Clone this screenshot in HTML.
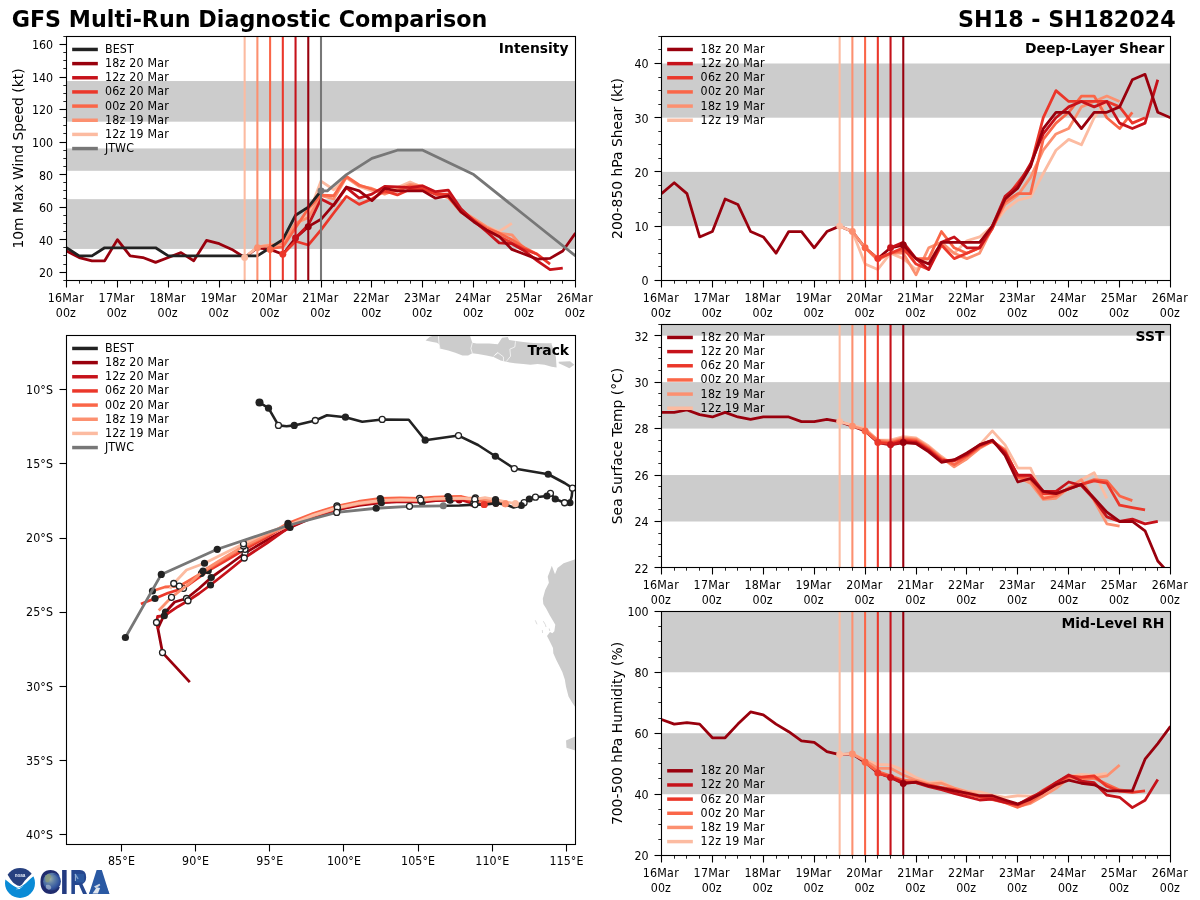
<!DOCTYPE html>
<html lang="en"><head><meta charset="utf-8"><title>GFS Multi-Run Diagnostic Comparison - SH18</title>
<style>html,body{margin:0;padding:0;background:#fff}svg{display:block;will-change:transform}text{font-family:'DejaVu Sans','Liberation Sans',sans-serif;fill:#000}</style>
</head><body>
<svg width="1200" height="900" viewBox="0 0 1200 900">
<rect width="1200" height="900" fill="#fff"/>
<defs>
<clipPath id="cI"><rect x="66.5" y="36.5" width="509" height="244"/></clipPath>
<clipPath id="cS"><rect x="661.5" y="36.5" width="509" height="244"/></clipPath>
<clipPath id="cT"><rect x="661.5" y="324.5" width="509" height="243"/></clipPath>
<clipPath id="cR"><rect x="661.5" y="611.5" width="509" height="244"/></clipPath>
<clipPath id="cM"><rect x="66.5" y="335.5" width="509" height="509"/></clipPath>
</defs>
<text transform="translate(11.7,26.8)" font-size="22.22" text-anchor="start" font-weight="bold">GFS Multi-Run Diagnostic Comparison</text>
<text transform="translate(1175.7,26.8)" font-size="22.22" text-anchor="end" font-weight="bold">SH18 - SH182024</text>
<rect x="66.5" y="199.16" width="509" height="49.76" fill="#cccccc"/>
<rect x="66.5" y="148.43" width="509" height="22.36" fill="#cccccc"/>
<rect x="66.5" y="81.03" width="509" height="40.65" fill="#cccccc"/>
<polyline points="66.5,251.03 79.22,257.54 91.95,260.79 104.67,260.79 117.4,239.65 130.12,255.91 142.85,257.54 155.57,262.41 168.3,257.54 181.03,252.66 193.75,260.79 206.47,240.46 219.2,243.72 231.93,249.41 244.65,257.54 257.38,247.78 270.1,249.41 282.82,254.28 295.55,238.02 308.27,226.64" fill="none" stroke="#99000d" stroke-width="2.78" stroke-linejoin="round" stroke-linecap="butt" clip-path="url(#cI)"/>
<polyline points="244.65,257.54 257.38,246.97 270.1,244.53 282.82,245.34 295.55,225.67 308.27,215.26 321,181.11 333.73,189.73 346.45,177.86 359.18,186.32 371.9,190.87 384.62,192.5 397.35,187.62 410.07,181.93 422.8,187.62 435.52,194.12 448.25,197.37 460.98,210.38 473.7,218.51 486.43,226.64 499.15,231.52 511.88,223.39" fill="none" stroke="#fcbba1" stroke-width="2.78" stroke-linejoin="round" stroke-linecap="butt" clip-path="url(#cI)"/>
<polyline points="257.38,246.97 270.1,245.34 282.82,243.72 295.55,223.06 308.27,217.7 321,195.75 333.73,199 346.45,177.05 359.18,185.99 371.9,188.43 384.62,194.12 397.35,189.24 410.07,184.37 422.8,185.99 435.52,192.5 448.25,195.75 460.98,210.38 473.7,218.51 486.43,226.64 499.15,233.15 511.88,234.77 524.6,249.41" fill="none" stroke="#fc9070" stroke-width="2.78" stroke-linejoin="round" stroke-linecap="butt" clip-path="url(#cI)"/>
<polyline points="270.1,248.59 282.82,246.97 295.55,227.78 308.27,208.43 321,195.1 333.73,195.75 346.45,176.4 359.18,185.02 371.9,189.24 384.62,192.5 397.35,190.87 410.07,185.99 422.8,187.62 435.52,194.12 448.25,197.37 460.98,212.01 473.7,220.14 486.43,228.27 499.15,233.15 511.88,239.65 524.6,247.78 537.33,254.28" fill="none" stroke="#fa6648" stroke-width="2.78" stroke-linejoin="round" stroke-linecap="butt" clip-path="url(#cI)"/>
<polyline points="282.82,254.28 295.55,241.28 308.27,245.02 321,229.89 333.73,212.98 346.45,196.4 359.18,204.37 371.9,199 384.62,190.87 397.35,194.94 410.07,189.24 422.8,189.24 435.52,194.12 448.25,194.12 460.98,210.38 473.7,220.14 486.43,229.89 499.15,236.4 511.88,242.9 524.6,249.41 537.33,254.28 550.05,264.04" fill="none" stroke="#eb372a" stroke-width="2.78" stroke-linejoin="round" stroke-linecap="butt" clip-path="url(#cI)"/>
<polyline points="295.55,238.02 308.27,225.02 321,199 333.73,205.5 346.45,187.62 359.18,198.19 371.9,194.12 384.62,186.32 397.35,186.81 410.07,187.62 422.8,185.99 435.52,191.68 448.25,190.06 460.98,208.76 473.7,220.95 486.43,231.52 499.15,242.9 511.88,243.72 524.6,251.03 537.33,260.79 550.05,269.73 562.77,268.11" fill="none" stroke="#c6121a" stroke-width="2.78" stroke-linejoin="round" stroke-linecap="butt" clip-path="url(#cI)"/>
<polyline points="308.27,226.64 321,219.33 333.73,204.69 346.45,186.97 359.18,190.87 371.9,200.63 384.62,188.43 397.35,190.87 410.07,190.87 422.8,190.87 435.52,198.19 448.25,195.75 460.98,212.01 473.7,221.76 486.43,229.89 499.15,236.4 511.88,249.41 524.6,254.28 537.33,259.16 550.05,258.35 562.77,251.03 575.5,233.15" fill="none" stroke="#99000d" stroke-width="2.78" stroke-linejoin="round" stroke-linecap="butt" clip-path="url(#cI)"/>
<polyline points="66.5,247.78 79.22,255.91 91.95,255.91 104.67,247.78 117.4,247.78 130.12,247.78 142.85,247.78 155.57,247.78 168.3,255.91 181.03,255.91 193.75,255.91 206.47,255.91 219.2,255.91 231.93,255.91 244.65,255.91 257.38,255.91 270.1,247.78 282.82,239.65 295.55,215.26 308.27,207.13 321,190.87" fill="none" stroke="#222222" stroke-width="2.78" stroke-linejoin="round" stroke-linecap="butt" clip-path="url(#cI)"/>
<polyline points="321,190.87 327.36,190.87 346.45,174.61 371.9,158.35 397.35,150.22 422.8,150.22 473.7,174.61 524.6,215.26 575.5,255.91" fill="none" stroke="#777777" stroke-width="2.78" stroke-linejoin="round" stroke-linecap="butt" clip-path="url(#cI)"/>
<line x1="244.65" y1="36.5" x2="244.65" y2="280.5" stroke="#fcbba1" stroke-width="2.08"/>
<line x1="257.38" y1="36.5" x2="257.38" y2="280.5" stroke="#fc9070" stroke-width="2.08"/>
<line x1="270.1" y1="36.5" x2="270.1" y2="280.5" stroke="#fa6648" stroke-width="2.08"/>
<line x1="282.82" y1="36.5" x2="282.82" y2="280.5" stroke="#eb372a" stroke-width="2.08"/>
<line x1="295.55" y1="36.5" x2="295.55" y2="280.5" stroke="#c6121a" stroke-width="2.08"/>
<line x1="308.27" y1="36.5" x2="308.27" y2="280.5" stroke="#99000d" stroke-width="2.08"/>
<line x1="321" y1="36.5" x2="321" y2="280.5" stroke="#777777" stroke-width="2.08"/>
<circle cx="244.65" cy="257.54" r="3.47" fill="#fcbba1"/>
<circle cx="257.38" cy="247.78" r="3.47" fill="#fc9070"/>
<circle cx="270.1" cy="249.41" r="3.47" fill="#fa6648"/>
<circle cx="282.82" cy="254.28" r="3.47" fill="#eb372a"/>
<circle cx="295.55" cy="238.02" r="3.47" fill="#c6121a"/>
<circle cx="308.27" cy="226.64" r="3.47" fill="#99000d"/>
<circle cx="321" cy="190.87" r="3.47" fill="#777777"/>
<rect x="66.5" y="36.5" width="509" height="244" fill="none" stroke="#000" stroke-width="1.1"/>
<line x1="66.5" y1="280.5" x2="66.5" y2="287.5" stroke="#000" stroke-width="1.1"/>
<text transform="translate(65.7,302.2) scale(1,1.11)" font-size="11.11" text-anchor="middle" textLength="36" lengthAdjust="spacing">16Mar</text>
<text transform="translate(65.8,317.3) scale(1,1.11)" font-size="11.11" text-anchor="middle" textLength="20" lengthAdjust="spacing">00z</text>
<line x1="79.5" y1="280.5" x2="79.5" y2="283.7" stroke="#000" stroke-width="0.85"/>
<line x1="91.5" y1="280.5" x2="91.5" y2="283.7" stroke="#000" stroke-width="0.85"/>
<line x1="104.5" y1="280.5" x2="104.5" y2="283.7" stroke="#000" stroke-width="0.85"/>
<line x1="117.5" y1="280.5" x2="117.5" y2="287.5" stroke="#000" stroke-width="1.1"/>
<text transform="translate(116.6,302.2) scale(1,1.11)" font-size="11.11" text-anchor="middle" textLength="36" lengthAdjust="spacing">17Mar</text>
<text transform="translate(116.7,317.3) scale(1,1.11)" font-size="11.11" text-anchor="middle" textLength="20" lengthAdjust="spacing">00z</text>
<line x1="130.5" y1="280.5" x2="130.5" y2="283.7" stroke="#000" stroke-width="0.85"/>
<line x1="142.5" y1="280.5" x2="142.5" y2="283.7" stroke="#000" stroke-width="0.85"/>
<line x1="155.5" y1="280.5" x2="155.5" y2="283.7" stroke="#000" stroke-width="0.85"/>
<line x1="168.5" y1="280.5" x2="168.5" y2="287.5" stroke="#000" stroke-width="1.1"/>
<text transform="translate(167.5,302.2) scale(1,1.11)" font-size="11.11" text-anchor="middle" textLength="36" lengthAdjust="spacing">18Mar</text>
<text transform="translate(167.6,317.3) scale(1,1.11)" font-size="11.11" text-anchor="middle" textLength="20" lengthAdjust="spacing">00z</text>
<line x1="181.5" y1="280.5" x2="181.5" y2="283.7" stroke="#000" stroke-width="0.85"/>
<line x1="193.5" y1="280.5" x2="193.5" y2="283.7" stroke="#000" stroke-width="0.85"/>
<line x1="206.5" y1="280.5" x2="206.5" y2="283.7" stroke="#000" stroke-width="0.85"/>
<line x1="219.5" y1="280.5" x2="219.5" y2="287.5" stroke="#000" stroke-width="1.1"/>
<text transform="translate(218.4,302.2) scale(1,1.11)" font-size="11.11" text-anchor="middle" textLength="36" lengthAdjust="spacing">19Mar</text>
<text transform="translate(218.5,317.3) scale(1,1.11)" font-size="11.11" text-anchor="middle" textLength="20" lengthAdjust="spacing">00z</text>
<line x1="231.5" y1="280.5" x2="231.5" y2="283.7" stroke="#000" stroke-width="0.85"/>
<line x1="244.5" y1="280.5" x2="244.5" y2="283.7" stroke="#000" stroke-width="0.85"/>
<line x1="257.5" y1="280.5" x2="257.5" y2="283.7" stroke="#000" stroke-width="0.85"/>
<line x1="270.5" y1="280.5" x2="270.5" y2="287.5" stroke="#000" stroke-width="1.1"/>
<text transform="translate(269.3,302.2) scale(1,1.11)" font-size="11.11" text-anchor="middle" textLength="36" lengthAdjust="spacing">20Mar</text>
<text transform="translate(269.4,317.3) scale(1,1.11)" font-size="11.11" text-anchor="middle" textLength="20" lengthAdjust="spacing">00z</text>
<line x1="282.5" y1="280.5" x2="282.5" y2="283.7" stroke="#000" stroke-width="0.85"/>
<line x1="295.5" y1="280.5" x2="295.5" y2="283.7" stroke="#000" stroke-width="0.85"/>
<line x1="308.5" y1="280.5" x2="308.5" y2="283.7" stroke="#000" stroke-width="0.85"/>
<line x1="321.5" y1="280.5" x2="321.5" y2="287.5" stroke="#000" stroke-width="1.1"/>
<text transform="translate(320.2,302.2) scale(1,1.11)" font-size="11.11" text-anchor="middle" textLength="36" lengthAdjust="spacing">21Mar</text>
<text transform="translate(320.3,317.3) scale(1,1.11)" font-size="11.11" text-anchor="middle" textLength="20" lengthAdjust="spacing">00z</text>
<line x1="333.5" y1="280.5" x2="333.5" y2="283.7" stroke="#000" stroke-width="0.85"/>
<line x1="346.5" y1="280.5" x2="346.5" y2="283.7" stroke="#000" stroke-width="0.85"/>
<line x1="359.5" y1="280.5" x2="359.5" y2="283.7" stroke="#000" stroke-width="0.85"/>
<line x1="371.5" y1="280.5" x2="371.5" y2="287.5" stroke="#000" stroke-width="1.1"/>
<text transform="translate(371.1,302.2) scale(1,1.11)" font-size="11.11" text-anchor="middle" textLength="36" lengthAdjust="spacing">22Mar</text>
<text transform="translate(371.2,317.3) scale(1,1.11)" font-size="11.11" text-anchor="middle" textLength="20" lengthAdjust="spacing">00z</text>
<line x1="384.5" y1="280.5" x2="384.5" y2="283.7" stroke="#000" stroke-width="0.85"/>
<line x1="397.5" y1="280.5" x2="397.5" y2="283.7" stroke="#000" stroke-width="0.85"/>
<line x1="410.5" y1="280.5" x2="410.5" y2="283.7" stroke="#000" stroke-width="0.85"/>
<line x1="422.5" y1="280.5" x2="422.5" y2="287.5" stroke="#000" stroke-width="1.1"/>
<text transform="translate(422,302.2) scale(1,1.11)" font-size="11.11" text-anchor="middle" textLength="36" lengthAdjust="spacing">23Mar</text>
<text transform="translate(422.1,317.3) scale(1,1.11)" font-size="11.11" text-anchor="middle" textLength="20" lengthAdjust="spacing">00z</text>
<line x1="435.5" y1="280.5" x2="435.5" y2="283.7" stroke="#000" stroke-width="0.85"/>
<line x1="448.5" y1="280.5" x2="448.5" y2="283.7" stroke="#000" stroke-width="0.85"/>
<line x1="460.5" y1="280.5" x2="460.5" y2="283.7" stroke="#000" stroke-width="0.85"/>
<line x1="473.5" y1="280.5" x2="473.5" y2="287.5" stroke="#000" stroke-width="1.1"/>
<text transform="translate(472.9,302.2) scale(1,1.11)" font-size="11.11" text-anchor="middle" textLength="36" lengthAdjust="spacing">24Mar</text>
<text transform="translate(473,317.3) scale(1,1.11)" font-size="11.11" text-anchor="middle" textLength="20" lengthAdjust="spacing">00z</text>
<line x1="486.5" y1="280.5" x2="486.5" y2="283.7" stroke="#000" stroke-width="0.85"/>
<line x1="499.5" y1="280.5" x2="499.5" y2="283.7" stroke="#000" stroke-width="0.85"/>
<line x1="511.5" y1="280.5" x2="511.5" y2="283.7" stroke="#000" stroke-width="0.85"/>
<line x1="524.5" y1="280.5" x2="524.5" y2="287.5" stroke="#000" stroke-width="1.1"/>
<text transform="translate(523.8,302.2) scale(1,1.11)" font-size="11.11" text-anchor="middle" textLength="36" lengthAdjust="spacing">25Mar</text>
<text transform="translate(523.9,317.3) scale(1,1.11)" font-size="11.11" text-anchor="middle" textLength="20" lengthAdjust="spacing">00z</text>
<line x1="537.5" y1="280.5" x2="537.5" y2="283.7" stroke="#000" stroke-width="0.85"/>
<line x1="550.5" y1="280.5" x2="550.5" y2="283.7" stroke="#000" stroke-width="0.85"/>
<line x1="562.5" y1="280.5" x2="562.5" y2="283.7" stroke="#000" stroke-width="0.85"/>
<line x1="575.5" y1="280.5" x2="575.5" y2="287.5" stroke="#000" stroke-width="1.1"/>
<text transform="translate(574.7,302.2) scale(1,1.11)" font-size="11.11" text-anchor="middle" textLength="36" lengthAdjust="spacing">26Mar</text>
<text transform="translate(574.8,317.3) scale(1,1.11)" font-size="11.11" text-anchor="middle" textLength="20" lengthAdjust="spacing">00z</text>
<line x1="63.3" y1="280.5" x2="66.5" y2="280.5" stroke="#000" stroke-width="0.85"/>
<line x1="59.5" y1="272.5" x2="66.5" y2="272.5" stroke="#000" stroke-width="1.1"/>
<text transform="translate(53,277.07) scale(1,1.11)" font-size="11.11" text-anchor="end" textLength="14" lengthAdjust="spacing">20</text>
<line x1="63.3" y1="264.5" x2="66.5" y2="264.5" stroke="#000" stroke-width="0.85"/>
<line x1="63.3" y1="255.5" x2="66.5" y2="255.5" stroke="#000" stroke-width="0.85"/>
<line x1="63.3" y1="247.5" x2="66.5" y2="247.5" stroke="#000" stroke-width="0.85"/>
<line x1="59.5" y1="239.5" x2="66.5" y2="239.5" stroke="#000" stroke-width="1.1"/>
<text transform="translate(53,244.55) scale(1,1.11)" font-size="11.11" text-anchor="end" textLength="14" lengthAdjust="spacing">40</text>
<line x1="63.3" y1="231.5" x2="66.5" y2="231.5" stroke="#000" stroke-width="0.85"/>
<line x1="63.3" y1="223.5" x2="66.5" y2="223.5" stroke="#000" stroke-width="0.85"/>
<line x1="63.3" y1="215.5" x2="66.5" y2="215.5" stroke="#000" stroke-width="0.85"/>
<line x1="59.5" y1="207.5" x2="66.5" y2="207.5" stroke="#000" stroke-width="1.1"/>
<text transform="translate(53,212.03) scale(1,1.11)" font-size="11.11" text-anchor="end" textLength="14" lengthAdjust="spacing">60</text>
<line x1="63.3" y1="198.5" x2="66.5" y2="198.5" stroke="#000" stroke-width="0.85"/>
<line x1="63.3" y1="190.5" x2="66.5" y2="190.5" stroke="#000" stroke-width="0.85"/>
<line x1="63.3" y1="182.5" x2="66.5" y2="182.5" stroke="#000" stroke-width="0.85"/>
<line x1="59.5" y1="174.5" x2="66.5" y2="174.5" stroke="#000" stroke-width="1.1"/>
<text transform="translate(53,179.51) scale(1,1.11)" font-size="11.11" text-anchor="end" textLength="14" lengthAdjust="spacing">80</text>
<line x1="63.3" y1="166.5" x2="66.5" y2="166.5" stroke="#000" stroke-width="0.85"/>
<line x1="63.3" y1="158.5" x2="66.5" y2="158.5" stroke="#000" stroke-width="0.85"/>
<line x1="63.3" y1="150.5" x2="66.5" y2="150.5" stroke="#000" stroke-width="0.85"/>
<line x1="59.5" y1="142.5" x2="66.5" y2="142.5" stroke="#000" stroke-width="1.1"/>
<text transform="translate(53,146.99) scale(1,1.11)" font-size="11.11" text-anchor="end" textLength="21" lengthAdjust="spacing">100</text>
<line x1="63.3" y1="133.5" x2="66.5" y2="133.5" stroke="#000" stroke-width="0.85"/>
<line x1="63.3" y1="125.5" x2="66.5" y2="125.5" stroke="#000" stroke-width="0.85"/>
<line x1="63.3" y1="117.5" x2="66.5" y2="117.5" stroke="#000" stroke-width="0.85"/>
<line x1="59.5" y1="109.5" x2="66.5" y2="109.5" stroke="#000" stroke-width="1.1"/>
<text transform="translate(53,114.47) scale(1,1.11)" font-size="11.11" text-anchor="end" textLength="21" lengthAdjust="spacing">120</text>
<line x1="63.3" y1="101.5" x2="66.5" y2="101.5" stroke="#000" stroke-width="0.85"/>
<line x1="63.3" y1="93.5" x2="66.5" y2="93.5" stroke="#000" stroke-width="0.85"/>
<line x1="63.3" y1="85.5" x2="66.5" y2="85.5" stroke="#000" stroke-width="0.85"/>
<line x1="59.5" y1="77.5" x2="66.5" y2="77.5" stroke="#000" stroke-width="1.1"/>
<text transform="translate(53,81.95) scale(1,1.11)" font-size="11.11" text-anchor="end" textLength="21" lengthAdjust="spacing">140</text>
<line x1="63.3" y1="68.5" x2="66.5" y2="68.5" stroke="#000" stroke-width="0.85"/>
<line x1="63.3" y1="60.5" x2="66.5" y2="60.5" stroke="#000" stroke-width="0.85"/>
<line x1="63.3" y1="52.5" x2="66.5" y2="52.5" stroke="#000" stroke-width="0.85"/>
<line x1="59.5" y1="44.5" x2="66.5" y2="44.5" stroke="#000" stroke-width="1.1"/>
<text transform="translate(53,49.43) scale(1,1.11)" font-size="11.11" text-anchor="end" textLength="21" lengthAdjust="spacing">160</text>
<line x1="63.3" y1="36.5" x2="66.5" y2="36.5" stroke="#000" stroke-width="0.85"/>
<text transform="translate(568.5,52.8)" font-size="13.89" text-anchor="end" font-weight="bold">Intensity</text>
<text transform="translate(23,158.5) rotate(-90)" font-size="13.89" text-anchor="middle">10m Max Wind Speed (kt)</text>
<line x1="73.9" y1="49.45" x2="96.1" y2="49.45" stroke="#222222" stroke-width="3.47" stroke-linecap="square"/>
<text transform="translate(104.9,52.95) scale(1,1.11)" font-size="11.11" text-anchor="start" textLength="29" lengthAdjust="spacing">BEST</text>
<line x1="73.9" y1="63.61" x2="96.1" y2="63.61" stroke="#99000d" stroke-width="3.47" stroke-linecap="square"/>
<text transform="translate(104.9,67.11) scale(1,1.11)" font-size="11.11" text-anchor="start" textLength="64" lengthAdjust="spacing">18z 20 Mar</text>
<line x1="73.9" y1="77.77" x2="96.1" y2="77.77" stroke="#c6121a" stroke-width="3.47" stroke-linecap="square"/>
<text transform="translate(104.9,81.27) scale(1,1.11)" font-size="11.11" text-anchor="start" textLength="64" lengthAdjust="spacing">12z 20 Mar</text>
<line x1="73.9" y1="91.93" x2="96.1" y2="91.93" stroke="#eb372a" stroke-width="3.47" stroke-linecap="square"/>
<text transform="translate(104.9,95.43) scale(1,1.11)" font-size="11.11" text-anchor="start" textLength="64" lengthAdjust="spacing">06z 20 Mar</text>
<line x1="73.9" y1="106.09" x2="96.1" y2="106.09" stroke="#fa6648" stroke-width="3.47" stroke-linecap="square"/>
<text transform="translate(104.9,109.59) scale(1,1.11)" font-size="11.11" text-anchor="start" textLength="64" lengthAdjust="spacing">00z 20 Mar</text>
<line x1="73.9" y1="120.25" x2="96.1" y2="120.25" stroke="#fc9070" stroke-width="3.47" stroke-linecap="square"/>
<text transform="translate(104.9,123.75) scale(1,1.11)" font-size="11.11" text-anchor="start" textLength="64" lengthAdjust="spacing">18z 19 Mar</text>
<line x1="73.9" y1="134.41" x2="96.1" y2="134.41" stroke="#fcbba1" stroke-width="3.47" stroke-linecap="square"/>
<text transform="translate(104.9,137.91) scale(1,1.11)" font-size="11.11" text-anchor="start" textLength="64" lengthAdjust="spacing">12z 19 Mar</text>
<line x1="73.9" y1="148.57" x2="96.1" y2="148.57" stroke="#777777" stroke-width="3.47" stroke-linecap="square"/>
<text transform="translate(104.9,152.07) scale(1,1.11)" font-size="11.11" text-anchor="start" textLength="29" lengthAdjust="spacing">JTWC</text>
<rect x="661.5" y="171.9" width="509" height="54.2" fill="#cccccc"/>
<rect x="661.5" y="63.5" width="509" height="54.2" fill="#cccccc"/>
<polyline points="661.5,193.58 674.23,182.74 686.95,193.58 699.67,236.94 712.4,231.52 725.12,199 737.85,204.42 750.58,231.52 763.3,236.94 776.02,253.2 788.75,231.52 801.48,231.52 814.2,247.78 826.92,231.52 839.65,226.1 852.38,231.52 865.1,247.78 877.83,258.62 890.55,247.78 903.27,245.07" fill="none" stroke="#99000d" stroke-width="2.78" stroke-linejoin="round" stroke-linecap="butt" clip-path="url(#cS)"/>
<polyline points="839.65,226.1 852.38,231.52 865.1,264.04 877.83,269.46 890.55,253.2 903.27,258.62 916,269.46 928.73,258.62 941.45,245.07 954.17,253.2 966.9,240.73 979.62,236.94 992.35,226.1 1005.08,209.84 1017.8,200.08 1030.53,196.83 1043.25,173.53 1055.97,150.22 1068.7,139.38 1081.42,144.8 1094.15,117.7 1106.88,101.44" fill="none" stroke="#fcbba1" stroke-width="2.78" stroke-linejoin="round" stroke-linecap="butt" clip-path="url(#cS)"/>
<polyline points="852.38,231.52 865.1,247.78 877.83,260.25 890.55,253.2 903.27,253.2 916,274.88 928.73,247.78 941.45,242.36 954.17,253.2 966.9,258.62 979.62,253.2 992.35,227.73 1005.08,204.42 1017.8,195.21 1030.53,177.32 1043.25,150.22 1055.97,133.96 1068.7,128.54 1081.42,106.86 1094.15,101.44 1106.88,96.02 1119.6,101.44" fill="none" stroke="#fc9070" stroke-width="2.78" stroke-linejoin="round" stroke-linecap="butt" clip-path="url(#cS)"/>
<polyline points="865.1,247.78 877.83,258.62 890.55,253.2 903.27,250.49 916,258.62 928.73,258.62 941.45,231.52 954.17,247.78 966.9,253.2 979.62,247.78 992.35,226.1 1005.08,201.71 1017.8,193.58 1030.53,193.58 1043.25,139.38 1055.97,123.12 1068.7,112.28 1081.42,96.02 1094.15,96.02 1106.88,117.7 1119.6,128.54 1132.33,112.28" fill="none" stroke="#fa6648" stroke-width="2.78" stroke-linejoin="round" stroke-linecap="butt" clip-path="url(#cS)"/>
<polyline points="877.83,258.62 890.55,253.2 903.27,247.78 916,264.04 928.73,269.46 941.45,245.07 954.17,258.62 966.9,253.2 979.62,247.78 992.35,228.81 1005.08,199 1017.8,182.74 1030.53,166.48 1043.25,117.7 1055.97,90.6 1068.7,101.44 1081.42,101.44 1094.15,101.44 1106.88,101.44 1119.6,106.86 1132.33,123.12 1145.05,117.7" fill="none" stroke="#eb372a" stroke-width="2.78" stroke-linejoin="round" stroke-linecap="butt" clip-path="url(#cS)"/>
<polyline points="890.55,247.78 903.27,242.36 916,258.62 928.73,269.46 941.45,242.36 954.17,236.94 966.9,247.78 979.62,247.78 992.35,226.1 1005.08,196.29 1017.8,185.45 1030.53,163.77 1043.25,133.96 1055.97,117.7 1068.7,106.86 1081.42,101.44 1094.15,106.86 1106.88,101.44 1119.6,123.12 1132.33,128.54 1145.05,123.12 1157.78,79.76" fill="none" stroke="#c6121a" stroke-width="2.78" stroke-linejoin="round" stroke-linecap="butt" clip-path="url(#cS)"/>
<polyline points="903.27,245.07 916,258.62 928.73,264.04 941.45,242.36 954.17,242.36 966.9,242.36 979.62,242.36 992.35,226.1 1005.08,199 1017.8,188.16 1030.53,166.48 1043.25,128.54 1055.97,112.28 1068.7,112.28 1081.42,128.54 1094.15,112.28 1106.88,112.28 1119.6,106.86 1132.33,79.76 1145.05,74.34 1157.78,112.28 1170.5,117.7" fill="none" stroke="#99000d" stroke-width="2.78" stroke-linejoin="round" stroke-linecap="butt" clip-path="url(#cS)"/>
<line x1="839.65" y1="36.5" x2="839.65" y2="280.5" stroke="#fcbba1" stroke-width="2.08"/>
<line x1="852.38" y1="36.5" x2="852.38" y2="280.5" stroke="#fc9070" stroke-width="2.08"/>
<line x1="865.1" y1="36.5" x2="865.1" y2="280.5" stroke="#fa6648" stroke-width="2.08"/>
<line x1="877.83" y1="36.5" x2="877.83" y2="280.5" stroke="#eb372a" stroke-width="2.08"/>
<line x1="890.55" y1="36.5" x2="890.55" y2="280.5" stroke="#c6121a" stroke-width="2.08"/>
<line x1="903.27" y1="36.5" x2="903.27" y2="280.5" stroke="#99000d" stroke-width="2.08"/>
<circle cx="839.65" cy="226.1" r="3.47" fill="#fcbba1"/>
<circle cx="852.38" cy="231.52" r="3.47" fill="#fc9070"/>
<circle cx="865.1" cy="247.78" r="3.47" fill="#fa6648"/>
<circle cx="877.83" cy="258.62" r="3.47" fill="#eb372a"/>
<circle cx="890.55" cy="247.78" r="3.47" fill="#c6121a"/>
<circle cx="903.27" cy="245.07" r="3.47" fill="#99000d"/>
<rect x="661.5" y="36.5" width="509" height="244" fill="none" stroke="#000" stroke-width="1.1"/>
<line x1="661.5" y1="280.5" x2="661.5" y2="287.5" stroke="#000" stroke-width="1.1"/>
<text transform="translate(660.7,302.2) scale(1,1.11)" font-size="11.11" text-anchor="middle" textLength="36" lengthAdjust="spacing">16Mar</text>
<text transform="translate(660.8,317.3) scale(1,1.11)" font-size="11.11" text-anchor="middle" textLength="20" lengthAdjust="spacing">00z</text>
<line x1="674.5" y1="280.5" x2="674.5" y2="283.7" stroke="#000" stroke-width="0.85"/>
<line x1="686.5" y1="280.5" x2="686.5" y2="283.7" stroke="#000" stroke-width="0.85"/>
<line x1="699.5" y1="280.5" x2="699.5" y2="283.7" stroke="#000" stroke-width="0.85"/>
<line x1="712.5" y1="280.5" x2="712.5" y2="287.5" stroke="#000" stroke-width="1.1"/>
<text transform="translate(711.6,302.2) scale(1,1.11)" font-size="11.11" text-anchor="middle" textLength="36" lengthAdjust="spacing">17Mar</text>
<text transform="translate(711.7,317.3) scale(1,1.11)" font-size="11.11" text-anchor="middle" textLength="20" lengthAdjust="spacing">00z</text>
<line x1="725.5" y1="280.5" x2="725.5" y2="283.7" stroke="#000" stroke-width="0.85"/>
<line x1="737.5" y1="280.5" x2="737.5" y2="283.7" stroke="#000" stroke-width="0.85"/>
<line x1="750.5" y1="280.5" x2="750.5" y2="283.7" stroke="#000" stroke-width="0.85"/>
<line x1="763.5" y1="280.5" x2="763.5" y2="287.5" stroke="#000" stroke-width="1.1"/>
<text transform="translate(762.5,302.2) scale(1,1.11)" font-size="11.11" text-anchor="middle" textLength="36" lengthAdjust="spacing">18Mar</text>
<text transform="translate(762.6,317.3) scale(1,1.11)" font-size="11.11" text-anchor="middle" textLength="20" lengthAdjust="spacing">00z</text>
<line x1="776.5" y1="280.5" x2="776.5" y2="283.7" stroke="#000" stroke-width="0.85"/>
<line x1="788.5" y1="280.5" x2="788.5" y2="283.7" stroke="#000" stroke-width="0.85"/>
<line x1="801.5" y1="280.5" x2="801.5" y2="283.7" stroke="#000" stroke-width="0.85"/>
<line x1="814.5" y1="280.5" x2="814.5" y2="287.5" stroke="#000" stroke-width="1.1"/>
<text transform="translate(813.4,302.2) scale(1,1.11)" font-size="11.11" text-anchor="middle" textLength="36" lengthAdjust="spacing">19Mar</text>
<text transform="translate(813.5,317.3) scale(1,1.11)" font-size="11.11" text-anchor="middle" textLength="20" lengthAdjust="spacing">00z</text>
<line x1="826.5" y1="280.5" x2="826.5" y2="283.7" stroke="#000" stroke-width="0.85"/>
<line x1="839.5" y1="280.5" x2="839.5" y2="283.7" stroke="#000" stroke-width="0.85"/>
<line x1="852.5" y1="280.5" x2="852.5" y2="283.7" stroke="#000" stroke-width="0.85"/>
<line x1="865.5" y1="280.5" x2="865.5" y2="287.5" stroke="#000" stroke-width="1.1"/>
<text transform="translate(864.3,302.2) scale(1,1.11)" font-size="11.11" text-anchor="middle" textLength="36" lengthAdjust="spacing">20Mar</text>
<text transform="translate(864.4,317.3) scale(1,1.11)" font-size="11.11" text-anchor="middle" textLength="20" lengthAdjust="spacing">00z</text>
<line x1="877.5" y1="280.5" x2="877.5" y2="283.7" stroke="#000" stroke-width="0.85"/>
<line x1="890.5" y1="280.5" x2="890.5" y2="283.7" stroke="#000" stroke-width="0.85"/>
<line x1="903.5" y1="280.5" x2="903.5" y2="283.7" stroke="#000" stroke-width="0.85"/>
<line x1="916.5" y1="280.5" x2="916.5" y2="287.5" stroke="#000" stroke-width="1.1"/>
<text transform="translate(915.2,302.2) scale(1,1.11)" font-size="11.11" text-anchor="middle" textLength="36" lengthAdjust="spacing">21Mar</text>
<text transform="translate(915.3,317.3) scale(1,1.11)" font-size="11.11" text-anchor="middle" textLength="20" lengthAdjust="spacing">00z</text>
<line x1="928.5" y1="280.5" x2="928.5" y2="283.7" stroke="#000" stroke-width="0.85"/>
<line x1="941.5" y1="280.5" x2="941.5" y2="283.7" stroke="#000" stroke-width="0.85"/>
<line x1="954.5" y1="280.5" x2="954.5" y2="283.7" stroke="#000" stroke-width="0.85"/>
<line x1="966.5" y1="280.5" x2="966.5" y2="287.5" stroke="#000" stroke-width="1.1"/>
<text transform="translate(966.1,302.2) scale(1,1.11)" font-size="11.11" text-anchor="middle" textLength="36" lengthAdjust="spacing">22Mar</text>
<text transform="translate(966.2,317.3) scale(1,1.11)" font-size="11.11" text-anchor="middle" textLength="20" lengthAdjust="spacing">00z</text>
<line x1="979.5" y1="280.5" x2="979.5" y2="283.7" stroke="#000" stroke-width="0.85"/>
<line x1="992.5" y1="280.5" x2="992.5" y2="283.7" stroke="#000" stroke-width="0.85"/>
<line x1="1005.5" y1="280.5" x2="1005.5" y2="283.7" stroke="#000" stroke-width="0.85"/>
<line x1="1017.5" y1="280.5" x2="1017.5" y2="287.5" stroke="#000" stroke-width="1.1"/>
<text transform="translate(1017,302.2) scale(1,1.11)" font-size="11.11" text-anchor="middle" textLength="36" lengthAdjust="spacing">23Mar</text>
<text transform="translate(1017.1,317.3) scale(1,1.11)" font-size="11.11" text-anchor="middle" textLength="20" lengthAdjust="spacing">00z</text>
<line x1="1030.5" y1="280.5" x2="1030.5" y2="283.7" stroke="#000" stroke-width="0.85"/>
<line x1="1043.5" y1="280.5" x2="1043.5" y2="283.7" stroke="#000" stroke-width="0.85"/>
<line x1="1055.5" y1="280.5" x2="1055.5" y2="283.7" stroke="#000" stroke-width="0.85"/>
<line x1="1068.5" y1="280.5" x2="1068.5" y2="287.5" stroke="#000" stroke-width="1.1"/>
<text transform="translate(1067.9,302.2) scale(1,1.11)" font-size="11.11" text-anchor="middle" textLength="36" lengthAdjust="spacing">24Mar</text>
<text transform="translate(1068,317.3) scale(1,1.11)" font-size="11.11" text-anchor="middle" textLength="20" lengthAdjust="spacing">00z</text>
<line x1="1081.5" y1="280.5" x2="1081.5" y2="283.7" stroke="#000" stroke-width="0.85"/>
<line x1="1094.5" y1="280.5" x2="1094.5" y2="283.7" stroke="#000" stroke-width="0.85"/>
<line x1="1106.5" y1="280.5" x2="1106.5" y2="283.7" stroke="#000" stroke-width="0.85"/>
<line x1="1119.5" y1="280.5" x2="1119.5" y2="287.5" stroke="#000" stroke-width="1.1"/>
<text transform="translate(1118.8,302.2) scale(1,1.11)" font-size="11.11" text-anchor="middle" textLength="36" lengthAdjust="spacing">25Mar</text>
<text transform="translate(1118.9,317.3) scale(1,1.11)" font-size="11.11" text-anchor="middle" textLength="20" lengthAdjust="spacing">00z</text>
<line x1="1132.5" y1="280.5" x2="1132.5" y2="283.7" stroke="#000" stroke-width="0.85"/>
<line x1="1145.5" y1="280.5" x2="1145.5" y2="283.7" stroke="#000" stroke-width="0.85"/>
<line x1="1157.5" y1="280.5" x2="1157.5" y2="283.7" stroke="#000" stroke-width="0.85"/>
<line x1="1170.5" y1="280.5" x2="1170.5" y2="287.5" stroke="#000" stroke-width="1.1"/>
<text transform="translate(1169.7,302.2) scale(1,1.11)" font-size="11.11" text-anchor="middle" textLength="36" lengthAdjust="spacing">26Mar</text>
<text transform="translate(1169.8,317.3) scale(1,1.11)" font-size="11.11" text-anchor="middle" textLength="20" lengthAdjust="spacing">00z</text>
<line x1="654.5" y1="280.5" x2="661.5" y2="280.5" stroke="#000" stroke-width="1.1"/>
<text transform="translate(648.6,285.2) scale(1,1.11)" font-size="11.11" text-anchor="end">0</text>
<line x1="658.3" y1="266.5" x2="661.5" y2="266.5" stroke="#000" stroke-width="0.85"/>
<line x1="658.3" y1="253.5" x2="661.5" y2="253.5" stroke="#000" stroke-width="0.85"/>
<line x1="658.3" y1="239.5" x2="661.5" y2="239.5" stroke="#000" stroke-width="0.85"/>
<line x1="654.5" y1="226.5" x2="661.5" y2="226.5" stroke="#000" stroke-width="1.1"/>
<text transform="translate(648.6,231) scale(1,1.11)" font-size="11.11" text-anchor="end" textLength="14" lengthAdjust="spacing">10</text>
<line x1="658.3" y1="212.5" x2="661.5" y2="212.5" stroke="#000" stroke-width="0.85"/>
<line x1="658.3" y1="198.5" x2="661.5" y2="198.5" stroke="#000" stroke-width="0.85"/>
<line x1="658.3" y1="185.5" x2="661.5" y2="185.5" stroke="#000" stroke-width="0.85"/>
<line x1="654.5" y1="171.5" x2="661.5" y2="171.5" stroke="#000" stroke-width="1.1"/>
<text transform="translate(648.6,176.8) scale(1,1.11)" font-size="11.11" text-anchor="end" textLength="14" lengthAdjust="spacing">20</text>
<line x1="658.3" y1="158.5" x2="661.5" y2="158.5" stroke="#000" stroke-width="0.85"/>
<line x1="658.3" y1="144.5" x2="661.5" y2="144.5" stroke="#000" stroke-width="0.85"/>
<line x1="658.3" y1="131.5" x2="661.5" y2="131.5" stroke="#000" stroke-width="0.85"/>
<line x1="654.5" y1="117.5" x2="661.5" y2="117.5" stroke="#000" stroke-width="1.1"/>
<text transform="translate(648.6,122.6) scale(1,1.11)" font-size="11.11" text-anchor="end" textLength="14" lengthAdjust="spacing">30</text>
<line x1="658.3" y1="104.5" x2="661.5" y2="104.5" stroke="#000" stroke-width="0.85"/>
<line x1="658.3" y1="90.5" x2="661.5" y2="90.5" stroke="#000" stroke-width="0.85"/>
<line x1="658.3" y1="77.5" x2="661.5" y2="77.5" stroke="#000" stroke-width="0.85"/>
<line x1="654.5" y1="63.5" x2="661.5" y2="63.5" stroke="#000" stroke-width="1.1"/>
<text transform="translate(648.6,68.4) scale(1,1.11)" font-size="11.11" text-anchor="end" textLength="14" lengthAdjust="spacing">40</text>
<line x1="658.3" y1="49.5" x2="661.5" y2="49.5" stroke="#000" stroke-width="0.85"/>
<line x1="658.3" y1="36.5" x2="661.5" y2="36.5" stroke="#000" stroke-width="0.85"/>
<text transform="translate(1164.4,52.8)" font-size="13.89" text-anchor="end" font-weight="bold">Deep-Layer Shear</text>
<text transform="translate(621.8,158.5) rotate(-90)" font-size="13.89" text-anchor="middle">200-850 hPa Shear (kt)</text>
<line x1="668.9" y1="49.45" x2="691.1" y2="49.45" stroke="#99000d" stroke-width="3.47" stroke-linecap="square"/>
<text transform="translate(700.6,52.95) scale(1,1.11)" font-size="11.11" text-anchor="start" textLength="64" lengthAdjust="spacing">18z 20 Mar</text>
<line x1="668.9" y1="63.61" x2="691.1" y2="63.61" stroke="#c6121a" stroke-width="3.47" stroke-linecap="square"/>
<text transform="translate(700.6,67.11) scale(1,1.11)" font-size="11.11" text-anchor="start" textLength="64" lengthAdjust="spacing">12z 20 Mar</text>
<line x1="668.9" y1="77.77" x2="691.1" y2="77.77" stroke="#eb372a" stroke-width="3.47" stroke-linecap="square"/>
<text transform="translate(700.6,81.27) scale(1,1.11)" font-size="11.11" text-anchor="start" textLength="64" lengthAdjust="spacing">06z 20 Mar</text>
<line x1="668.9" y1="91.93" x2="691.1" y2="91.93" stroke="#fa6648" stroke-width="3.47" stroke-linecap="square"/>
<text transform="translate(700.6,95.43) scale(1,1.11)" font-size="11.11" text-anchor="start" textLength="64" lengthAdjust="spacing">00z 20 Mar</text>
<line x1="668.9" y1="106.09" x2="691.1" y2="106.09" stroke="#fc9070" stroke-width="3.47" stroke-linecap="square"/>
<text transform="translate(700.6,109.59) scale(1,1.11)" font-size="11.11" text-anchor="start" textLength="64" lengthAdjust="spacing">18z 19 Mar</text>
<line x1="668.9" y1="120.25" x2="691.1" y2="120.25" stroke="#fcbba1" stroke-width="3.47" stroke-linecap="square"/>
<text transform="translate(700.6,123.75) scale(1,1.11)" font-size="11.11" text-anchor="start" textLength="64" lengthAdjust="spacing">12z 19 Mar</text>
<rect x="661.5" y="475.04" width="509" height="46.46" fill="#cccccc"/>
<rect x="661.5" y="382.12" width="509" height="46.46" fill="#cccccc"/>
<rect x="661.5" y="324.5" width="509" height="11.16" fill="#cccccc"/>
<polyline points="661.5,412.32 674.23,412.32 686.95,410 699.67,414.64 712.4,416.96 725.12,412.32 737.85,416.96 750.58,419.29 763.3,416.96 776.02,416.96 788.75,416.96 801.48,421.61 814.2,421.61 826.92,419.29 839.65,421.61 852.38,426.26 865.1,430.9 877.83,442.52 890.55,444.84 903.27,442.52" fill="none" stroke="#99000d" stroke-width="2.78" stroke-linejoin="round" stroke-linecap="butt" clip-path="url(#cT)"/>
<polyline points="839.65,421.61 852.38,425.09 865.1,428.58 877.83,440.19 890.55,440.19 903.27,436.71 916,437.87 928.73,446 941.45,456.45 954.17,465.74 966.9,458.78 979.62,444.84 992.35,430.9 1005.08,444.84 1017.8,468.07 1030.53,468.07 1043.25,495.94 1055.97,495.94 1068.7,488.97 1081.42,479.68 1094.15,472.71 1106.88,498.26" fill="none" stroke="#fcbba1" stroke-width="2.78" stroke-linejoin="round" stroke-linecap="butt" clip-path="url(#cT)"/>
<polyline points="852.38,426.26 865.1,429.74 877.83,440.19 890.55,441.35 903.27,437.87 916,439.03 928.73,447.16 941.45,457.61 954.17,466.91 966.9,458.78 979.62,448.32 992.35,441.35 1005.08,449.48 1017.8,477.36 1030.53,483.17 1043.25,499.43 1055.97,498.26 1068.7,487.81 1081.42,479.68 1094.15,500.59 1106.88,523.82 1119.6,526.14" fill="none" stroke="#fc9070" stroke-width="2.78" stroke-linejoin="round" stroke-linecap="butt" clip-path="url(#cT)"/>
<polyline points="865.1,430.9 877.83,441.35 890.55,442.52 903.27,439.03 916,440.19 928.73,448.32 941.45,458.78 954.17,464.58 966.9,456.45 979.62,447.16 992.35,441.35 1005.08,450.65 1017.8,477.36 1030.53,479.68 1043.25,498.26 1055.97,495.94 1068.7,487.81 1081.42,484.33 1094.15,479.68 1106.88,480.84 1119.6,495.94 1132.33,500.59" fill="none" stroke="#fa6648" stroke-width="2.78" stroke-linejoin="round" stroke-linecap="butt" clip-path="url(#cT)"/>
<polyline points="877.83,442.52 890.55,443.68 903.27,440.19 916,441.35 928.73,449.48 941.45,459.94 954.17,461.1 966.9,455.29 979.62,446 992.35,441.35 1005.08,451.81 1017.8,476.2 1030.53,476.2 1043.25,493.62 1055.97,493.62 1068.7,488.97 1081.42,484.33 1094.15,480.84 1106.88,483.17 1119.6,505.23 1132.33,507.56 1145.05,509.88" fill="none" stroke="#eb372a" stroke-width="2.78" stroke-linejoin="round" stroke-linecap="butt" clip-path="url(#cT)"/>
<polyline points="890.55,444.84 903.27,441.35 916,442.52 928.73,450.65 941.45,461.1 954.17,459.94 966.9,454.13 979.62,444.84 992.35,440.19 1005.08,452.97 1017.8,475.04 1030.53,475.04 1043.25,491.3 1055.97,491.3 1068.7,482 1081.42,485.49 1094.15,499.43 1106.88,516.85 1119.6,521.49 1132.33,519.17 1145.05,523.82 1157.78,521.49" fill="none" stroke="#c6121a" stroke-width="2.78" stroke-linejoin="round" stroke-linecap="butt" clip-path="url(#cT)"/>
<polyline points="903.27,442.52 916,443.68 928.73,451.81 941.45,462.26 954.17,459.94 966.9,452.97 979.62,444.84 992.35,440.19 1005.08,455.29 1017.8,482 1030.53,478.52 1043.25,491.3 1055.97,493.62 1068.7,488.97 1081.42,484.33 1094.15,498.26 1106.88,512.2 1119.6,521.49 1132.33,521.49 1145.05,530.78 1157.78,560.98 1170.5,574.92" fill="none" stroke="#99000d" stroke-width="2.78" stroke-linejoin="round" stroke-linecap="butt" clip-path="url(#cT)"/>
<line x1="839.65" y1="324.5" x2="839.65" y2="567.5" stroke="#fcbba1" stroke-width="2.08"/>
<line x1="852.38" y1="324.5" x2="852.38" y2="567.5" stroke="#fc9070" stroke-width="2.08"/>
<line x1="865.1" y1="324.5" x2="865.1" y2="567.5" stroke="#fa6648" stroke-width="2.08"/>
<line x1="877.83" y1="324.5" x2="877.83" y2="567.5" stroke="#eb372a" stroke-width="2.08"/>
<line x1="890.55" y1="324.5" x2="890.55" y2="567.5" stroke="#c6121a" stroke-width="2.08"/>
<line x1="903.27" y1="324.5" x2="903.27" y2="567.5" stroke="#99000d" stroke-width="2.08"/>
<circle cx="839.65" cy="421.61" r="3.47" fill="#fcbba1"/>
<circle cx="852.38" cy="426.26" r="3.47" fill="#fc9070"/>
<circle cx="865.1" cy="430.9" r="3.47" fill="#fa6648"/>
<circle cx="877.83" cy="442.52" r="3.47" fill="#eb372a"/>
<circle cx="890.55" cy="444.84" r="3.47" fill="#c6121a"/>
<circle cx="903.27" cy="442.52" r="3.47" fill="#99000d"/>
<rect x="661.5" y="324.5" width="509" height="243" fill="none" stroke="#000" stroke-width="1.1"/>
<line x1="661.5" y1="567.5" x2="661.5" y2="574.5" stroke="#000" stroke-width="1.1"/>
<text transform="translate(660.7,589.2) scale(1,1.11)" font-size="11.11" text-anchor="middle" textLength="36" lengthAdjust="spacing">16Mar</text>
<text transform="translate(660.8,604.3) scale(1,1.11)" font-size="11.11" text-anchor="middle" textLength="20" lengthAdjust="spacing">00z</text>
<line x1="674.5" y1="567.5" x2="674.5" y2="570.7" stroke="#000" stroke-width="0.85"/>
<line x1="686.5" y1="567.5" x2="686.5" y2="570.7" stroke="#000" stroke-width="0.85"/>
<line x1="699.5" y1="567.5" x2="699.5" y2="570.7" stroke="#000" stroke-width="0.85"/>
<line x1="712.5" y1="567.5" x2="712.5" y2="574.5" stroke="#000" stroke-width="1.1"/>
<text transform="translate(711.6,589.2) scale(1,1.11)" font-size="11.11" text-anchor="middle" textLength="36" lengthAdjust="spacing">17Mar</text>
<text transform="translate(711.7,604.3) scale(1,1.11)" font-size="11.11" text-anchor="middle" textLength="20" lengthAdjust="spacing">00z</text>
<line x1="725.5" y1="567.5" x2="725.5" y2="570.7" stroke="#000" stroke-width="0.85"/>
<line x1="737.5" y1="567.5" x2="737.5" y2="570.7" stroke="#000" stroke-width="0.85"/>
<line x1="750.5" y1="567.5" x2="750.5" y2="570.7" stroke="#000" stroke-width="0.85"/>
<line x1="763.5" y1="567.5" x2="763.5" y2="574.5" stroke="#000" stroke-width="1.1"/>
<text transform="translate(762.5,589.2) scale(1,1.11)" font-size="11.11" text-anchor="middle" textLength="36" lengthAdjust="spacing">18Mar</text>
<text transform="translate(762.6,604.3) scale(1,1.11)" font-size="11.11" text-anchor="middle" textLength="20" lengthAdjust="spacing">00z</text>
<line x1="776.5" y1="567.5" x2="776.5" y2="570.7" stroke="#000" stroke-width="0.85"/>
<line x1="788.5" y1="567.5" x2="788.5" y2="570.7" stroke="#000" stroke-width="0.85"/>
<line x1="801.5" y1="567.5" x2="801.5" y2="570.7" stroke="#000" stroke-width="0.85"/>
<line x1="814.5" y1="567.5" x2="814.5" y2="574.5" stroke="#000" stroke-width="1.1"/>
<text transform="translate(813.4,589.2) scale(1,1.11)" font-size="11.11" text-anchor="middle" textLength="36" lengthAdjust="spacing">19Mar</text>
<text transform="translate(813.5,604.3) scale(1,1.11)" font-size="11.11" text-anchor="middle" textLength="20" lengthAdjust="spacing">00z</text>
<line x1="826.5" y1="567.5" x2="826.5" y2="570.7" stroke="#000" stroke-width="0.85"/>
<line x1="839.5" y1="567.5" x2="839.5" y2="570.7" stroke="#000" stroke-width="0.85"/>
<line x1="852.5" y1="567.5" x2="852.5" y2="570.7" stroke="#000" stroke-width="0.85"/>
<line x1="865.5" y1="567.5" x2="865.5" y2="574.5" stroke="#000" stroke-width="1.1"/>
<text transform="translate(864.3,589.2) scale(1,1.11)" font-size="11.11" text-anchor="middle" textLength="36" lengthAdjust="spacing">20Mar</text>
<text transform="translate(864.4,604.3) scale(1,1.11)" font-size="11.11" text-anchor="middle" textLength="20" lengthAdjust="spacing">00z</text>
<line x1="877.5" y1="567.5" x2="877.5" y2="570.7" stroke="#000" stroke-width="0.85"/>
<line x1="890.5" y1="567.5" x2="890.5" y2="570.7" stroke="#000" stroke-width="0.85"/>
<line x1="903.5" y1="567.5" x2="903.5" y2="570.7" stroke="#000" stroke-width="0.85"/>
<line x1="916.5" y1="567.5" x2="916.5" y2="574.5" stroke="#000" stroke-width="1.1"/>
<text transform="translate(915.2,589.2) scale(1,1.11)" font-size="11.11" text-anchor="middle" textLength="36" lengthAdjust="spacing">21Mar</text>
<text transform="translate(915.3,604.3) scale(1,1.11)" font-size="11.11" text-anchor="middle" textLength="20" lengthAdjust="spacing">00z</text>
<line x1="928.5" y1="567.5" x2="928.5" y2="570.7" stroke="#000" stroke-width="0.85"/>
<line x1="941.5" y1="567.5" x2="941.5" y2="570.7" stroke="#000" stroke-width="0.85"/>
<line x1="954.5" y1="567.5" x2="954.5" y2="570.7" stroke="#000" stroke-width="0.85"/>
<line x1="966.5" y1="567.5" x2="966.5" y2="574.5" stroke="#000" stroke-width="1.1"/>
<text transform="translate(966.1,589.2) scale(1,1.11)" font-size="11.11" text-anchor="middle" textLength="36" lengthAdjust="spacing">22Mar</text>
<text transform="translate(966.2,604.3) scale(1,1.11)" font-size="11.11" text-anchor="middle" textLength="20" lengthAdjust="spacing">00z</text>
<line x1="979.5" y1="567.5" x2="979.5" y2="570.7" stroke="#000" stroke-width="0.85"/>
<line x1="992.5" y1="567.5" x2="992.5" y2="570.7" stroke="#000" stroke-width="0.85"/>
<line x1="1005.5" y1="567.5" x2="1005.5" y2="570.7" stroke="#000" stroke-width="0.85"/>
<line x1="1017.5" y1="567.5" x2="1017.5" y2="574.5" stroke="#000" stroke-width="1.1"/>
<text transform="translate(1017,589.2) scale(1,1.11)" font-size="11.11" text-anchor="middle" textLength="36" lengthAdjust="spacing">23Mar</text>
<text transform="translate(1017.1,604.3) scale(1,1.11)" font-size="11.11" text-anchor="middle" textLength="20" lengthAdjust="spacing">00z</text>
<line x1="1030.5" y1="567.5" x2="1030.5" y2="570.7" stroke="#000" stroke-width="0.85"/>
<line x1="1043.5" y1="567.5" x2="1043.5" y2="570.7" stroke="#000" stroke-width="0.85"/>
<line x1="1055.5" y1="567.5" x2="1055.5" y2="570.7" stroke="#000" stroke-width="0.85"/>
<line x1="1068.5" y1="567.5" x2="1068.5" y2="574.5" stroke="#000" stroke-width="1.1"/>
<text transform="translate(1067.9,589.2) scale(1,1.11)" font-size="11.11" text-anchor="middle" textLength="36" lengthAdjust="spacing">24Mar</text>
<text transform="translate(1068,604.3) scale(1,1.11)" font-size="11.11" text-anchor="middle" textLength="20" lengthAdjust="spacing">00z</text>
<line x1="1081.5" y1="567.5" x2="1081.5" y2="570.7" stroke="#000" stroke-width="0.85"/>
<line x1="1094.5" y1="567.5" x2="1094.5" y2="570.7" stroke="#000" stroke-width="0.85"/>
<line x1="1106.5" y1="567.5" x2="1106.5" y2="570.7" stroke="#000" stroke-width="0.85"/>
<line x1="1119.5" y1="567.5" x2="1119.5" y2="574.5" stroke="#000" stroke-width="1.1"/>
<text transform="translate(1118.8,589.2) scale(1,1.11)" font-size="11.11" text-anchor="middle" textLength="36" lengthAdjust="spacing">25Mar</text>
<text transform="translate(1118.9,604.3) scale(1,1.11)" font-size="11.11" text-anchor="middle" textLength="20" lengthAdjust="spacing">00z</text>
<line x1="1132.5" y1="567.5" x2="1132.5" y2="570.7" stroke="#000" stroke-width="0.85"/>
<line x1="1145.5" y1="567.5" x2="1145.5" y2="570.7" stroke="#000" stroke-width="0.85"/>
<line x1="1157.5" y1="567.5" x2="1157.5" y2="570.7" stroke="#000" stroke-width="0.85"/>
<line x1="1170.5" y1="567.5" x2="1170.5" y2="574.5" stroke="#000" stroke-width="1.1"/>
<text transform="translate(1169.7,589.2) scale(1,1.11)" font-size="11.11" text-anchor="middle" textLength="36" lengthAdjust="spacing">26Mar</text>
<text transform="translate(1169.8,604.3) scale(1,1.11)" font-size="11.11" text-anchor="middle" textLength="20" lengthAdjust="spacing">00z</text>
<line x1="654.5" y1="567.5" x2="661.5" y2="567.5" stroke="#000" stroke-width="1.1"/>
<text transform="translate(648.6,572.85) scale(1,1.11)" font-size="11.11" text-anchor="end" textLength="14" lengthAdjust="spacing">22</text>
<line x1="658.3" y1="556.5" x2="661.5" y2="556.5" stroke="#000" stroke-width="0.85"/>
<line x1="658.3" y1="544.5" x2="661.5" y2="544.5" stroke="#000" stroke-width="0.85"/>
<line x1="658.3" y1="533.5" x2="661.5" y2="533.5" stroke="#000" stroke-width="0.85"/>
<line x1="654.5" y1="521.5" x2="661.5" y2="521.5" stroke="#000" stroke-width="1.1"/>
<text transform="translate(648.6,526.39) scale(1,1.11)" font-size="11.11" text-anchor="end" textLength="14" lengthAdjust="spacing">24</text>
<line x1="658.3" y1="509.5" x2="661.5" y2="509.5" stroke="#000" stroke-width="0.85"/>
<line x1="658.3" y1="498.5" x2="661.5" y2="498.5" stroke="#000" stroke-width="0.85"/>
<line x1="658.3" y1="486.5" x2="661.5" y2="486.5" stroke="#000" stroke-width="0.85"/>
<line x1="654.5" y1="475.5" x2="661.5" y2="475.5" stroke="#000" stroke-width="1.1"/>
<text transform="translate(648.6,479.94) scale(1,1.11)" font-size="11.11" text-anchor="end" textLength="14" lengthAdjust="spacing">26</text>
<line x1="658.3" y1="463.5" x2="661.5" y2="463.5" stroke="#000" stroke-width="0.85"/>
<line x1="658.3" y1="451.5" x2="661.5" y2="451.5" stroke="#000" stroke-width="0.85"/>
<line x1="658.3" y1="440.5" x2="661.5" y2="440.5" stroke="#000" stroke-width="0.85"/>
<line x1="654.5" y1="428.5" x2="661.5" y2="428.5" stroke="#000" stroke-width="1.1"/>
<text transform="translate(648.6,433.48) scale(1,1.11)" font-size="11.11" text-anchor="end" textLength="14" lengthAdjust="spacing">28</text>
<line x1="658.3" y1="416.5" x2="661.5" y2="416.5" stroke="#000" stroke-width="0.85"/>
<line x1="658.3" y1="405.5" x2="661.5" y2="405.5" stroke="#000" stroke-width="0.85"/>
<line x1="658.3" y1="393.5" x2="661.5" y2="393.5" stroke="#000" stroke-width="0.85"/>
<line x1="654.5" y1="382.5" x2="661.5" y2="382.5" stroke="#000" stroke-width="1.1"/>
<text transform="translate(648.6,387.02) scale(1,1.11)" font-size="11.11" text-anchor="end" textLength="14" lengthAdjust="spacing">30</text>
<line x1="658.3" y1="370.5" x2="661.5" y2="370.5" stroke="#000" stroke-width="0.85"/>
<line x1="658.3" y1="358.5" x2="661.5" y2="358.5" stroke="#000" stroke-width="0.85"/>
<line x1="658.3" y1="347.5" x2="661.5" y2="347.5" stroke="#000" stroke-width="0.85"/>
<line x1="654.5" y1="335.5" x2="661.5" y2="335.5" stroke="#000" stroke-width="1.1"/>
<text transform="translate(648.6,340.56) scale(1,1.11)" font-size="11.11" text-anchor="end" textLength="14" lengthAdjust="spacing">32</text>
<line x1="658.3" y1="324.5" x2="661.5" y2="324.5" stroke="#000" stroke-width="0.85"/>
<text transform="translate(1164.4,340.8)" font-size="13.89" text-anchor="end" font-weight="bold">SST</text>
<text transform="translate(621.8,446) rotate(-90)" font-size="13.89" text-anchor="middle">Sea Surface Temp (°C)</text>
<line x1="668.9" y1="337.45" x2="691.1" y2="337.45" stroke="#99000d" stroke-width="3.47" stroke-linecap="square"/>
<text transform="translate(700.6,340.95) scale(1,1.11)" font-size="11.11" text-anchor="start" textLength="64" lengthAdjust="spacing">18z 20 Mar</text>
<line x1="668.9" y1="351.61" x2="691.1" y2="351.61" stroke="#c6121a" stroke-width="3.47" stroke-linecap="square"/>
<text transform="translate(700.6,355.11) scale(1,1.11)" font-size="11.11" text-anchor="start" textLength="64" lengthAdjust="spacing">12z 20 Mar</text>
<line x1="668.9" y1="365.77" x2="691.1" y2="365.77" stroke="#eb372a" stroke-width="3.47" stroke-linecap="square"/>
<text transform="translate(700.6,369.27) scale(1,1.11)" font-size="11.11" text-anchor="start" textLength="64" lengthAdjust="spacing">06z 20 Mar</text>
<line x1="668.9" y1="379.93" x2="691.1" y2="379.93" stroke="#fa6648" stroke-width="3.47" stroke-linecap="square"/>
<text transform="translate(700.6,383.43) scale(1,1.11)" font-size="11.11" text-anchor="start" textLength="64" lengthAdjust="spacing">00z 20 Mar</text>
<line x1="668.9" y1="394.09" x2="691.1" y2="394.09" stroke="#fc9070" stroke-width="3.47" stroke-linecap="square"/>
<text transform="translate(700.6,397.59) scale(1,1.11)" font-size="11.11" text-anchor="start" textLength="64" lengthAdjust="spacing">18z 19 Mar</text>
<line x1="668.9" y1="408.25" x2="691.1" y2="408.25" stroke="#fcbba1" stroke-width="3.47" stroke-linecap="square"/>
<text transform="translate(700.6,411.75) scale(1,1.11)" font-size="11.11" text-anchor="start" textLength="64" lengthAdjust="spacing">12z 19 Mar</text>
<rect x="661.5" y="733.25" width="509" height="60.98" fill="#cccccc"/>
<rect x="661.5" y="611.5" width="509" height="60.77" fill="#cccccc"/>
<polyline points="661.5,719.53 674.23,724.1 686.95,722.58 699.67,724.1 712.4,737.82 725.12,737.82 737.85,724.1 750.58,711.91 763.3,714.96 776.02,724.1 788.75,731.73 801.48,740.87 814.2,742.4 826.92,751.54 839.65,754.59 852.38,753.98 865.1,762.21 877.83,772.88 890.55,777.46 903.27,783.55" fill="none" stroke="#99000d" stroke-width="2.78" stroke-linejoin="round" stroke-linecap="butt" clip-path="url(#cR)"/>
<polyline points="839.65,754.59 852.38,753.37 865.1,760.08 877.83,764.35 890.55,764.96 903.27,770.14 916,777.46 928.73,782.64 941.45,781.73 954.17,788.13 966.9,791.18 979.62,791.79 992.35,795.14 1005.08,797.27 1017.8,795.75 1030.53,796.05 1043.25,793.62 1055.97,785.38 1068.7,776.54 1081.42,774.41 1094.15,775.32 1106.88,773.49" fill="none" stroke="#fcbba1" stroke-width="2.78" stroke-linejoin="round" stroke-linecap="butt" clip-path="url(#cR)"/>
<polyline points="852.38,753.98 865.1,760.69 877.83,768.31 890.55,768.31 903.27,775.02 916,780.2 928.73,783.86 941.45,783.25 954.17,788.13 966.9,791.79 979.62,795.44 992.35,797.88 1005.08,802.46 1017.8,806.72 1030.53,803.37 1043.25,796.05 1055.97,788.43 1068.7,778.07 1081.42,778.98 1094.15,778.07 1106.88,775.93 1119.6,764.96" fill="none" stroke="#fc9070" stroke-width="2.78" stroke-linejoin="round" stroke-linecap="butt" clip-path="url(#cR)"/>
<polyline points="865.1,762.52 877.83,771.66 890.55,775.93 903.27,780.2 916,781.42 928.73,785.08 941.45,787.52 954.17,791.18 966.9,794.23 979.62,797.27 992.35,799.71 1005.08,802.76 1017.8,807.33 1030.53,801.85 1043.25,792.7 1055.97,783.55 1068.7,776.54 1081.42,778.07 1094.15,778.07 1106.88,784.16 1119.6,789.96 1132.33,791.48" fill="none" stroke="#fa6648" stroke-width="2.78" stroke-linejoin="round" stroke-linecap="butt" clip-path="url(#cR)"/>
<polyline points="877.83,773.49 890.55,776.54 903.27,782.03 916,782.64 928.73,785.08 941.45,787.52 954.17,789.65 966.9,793.62 979.62,796.66 992.35,798.49 1005.08,800.93 1017.8,804.9 1030.53,799.1 1043.25,790.26 1055.97,782.64 1068.7,775.93 1081.42,777.15 1094.15,775.93 1106.88,786.3 1119.6,791.18 1132.33,792.4 1145.05,790.87" fill="none" stroke="#eb372a" stroke-width="2.78" stroke-linejoin="round" stroke-linecap="butt" clip-path="url(#cR)"/>
<polyline points="890.55,777.46 903.27,782.64 916,782.64 928.73,786.6 941.45,789.65 954.17,793.31 966.9,796.66 979.62,800.02 992.35,799.1 1005.08,802.46 1017.8,804.59 1030.53,797.58 1043.25,791.48 1055.97,782.64 1068.7,775.02 1081.42,781.12 1094.15,782.64 1106.88,795.14 1119.6,797.27 1132.33,807.64 1145.05,800.32 1157.78,779.59" fill="none" stroke="#c6121a" stroke-width="2.78" stroke-linejoin="round" stroke-linecap="butt" clip-path="url(#cR)"/>
<polyline points="903.27,783.55 916,782.03 928.73,785.99 941.45,788.13 954.17,790.87 966.9,793.01 979.62,795.75 992.35,795.75 1005.08,800.02 1017.8,803.98 1030.53,799.1 1043.25,792.4 1055.97,784.77 1068.7,780.2 1081.42,783.25 1094.15,784.77 1106.88,790.87 1119.6,790.87 1132.33,790.87 1145.05,759.16 1157.78,743.62 1170.5,726.24" fill="none" stroke="#99000d" stroke-width="2.78" stroke-linejoin="round" stroke-linecap="butt" clip-path="url(#cR)"/>
<line x1="839.65" y1="611.5" x2="839.65" y2="855.5" stroke="#fcbba1" stroke-width="2.08"/>
<line x1="852.38" y1="611.5" x2="852.38" y2="855.5" stroke="#fc9070" stroke-width="2.08"/>
<line x1="865.1" y1="611.5" x2="865.1" y2="855.5" stroke="#fa6648" stroke-width="2.08"/>
<line x1="877.83" y1="611.5" x2="877.83" y2="855.5" stroke="#eb372a" stroke-width="2.08"/>
<line x1="890.55" y1="611.5" x2="890.55" y2="855.5" stroke="#c6121a" stroke-width="2.08"/>
<line x1="903.27" y1="611.5" x2="903.27" y2="855.5" stroke="#99000d" stroke-width="2.08"/>
<circle cx="839.65" cy="754.59" r="3.47" fill="#fcbba1"/>
<circle cx="852.38" cy="753.98" r="3.47" fill="#fc9070"/>
<circle cx="865.1" cy="762.21" r="3.47" fill="#fa6648"/>
<circle cx="877.83" cy="772.88" r="3.47" fill="#eb372a"/>
<circle cx="890.55" cy="777.46" r="3.47" fill="#c6121a"/>
<circle cx="903.27" cy="783.55" r="3.47" fill="#99000d"/>
<rect x="661.5" y="611.5" width="509" height="244" fill="none" stroke="#000" stroke-width="1.1"/>
<line x1="661.5" y1="855.5" x2="661.5" y2="862.5" stroke="#000" stroke-width="1.1"/>
<text transform="translate(660.7,877.2) scale(1,1.11)" font-size="11.11" text-anchor="middle" textLength="36" lengthAdjust="spacing">16Mar</text>
<text transform="translate(660.8,892.3) scale(1,1.11)" font-size="11.11" text-anchor="middle" textLength="20" lengthAdjust="spacing">00z</text>
<line x1="674.5" y1="855.5" x2="674.5" y2="858.7" stroke="#000" stroke-width="0.85"/>
<line x1="686.5" y1="855.5" x2="686.5" y2="858.7" stroke="#000" stroke-width="0.85"/>
<line x1="699.5" y1="855.5" x2="699.5" y2="858.7" stroke="#000" stroke-width="0.85"/>
<line x1="712.5" y1="855.5" x2="712.5" y2="862.5" stroke="#000" stroke-width="1.1"/>
<text transform="translate(711.6,877.2) scale(1,1.11)" font-size="11.11" text-anchor="middle" textLength="36" lengthAdjust="spacing">17Mar</text>
<text transform="translate(711.7,892.3) scale(1,1.11)" font-size="11.11" text-anchor="middle" textLength="20" lengthAdjust="spacing">00z</text>
<line x1="725.5" y1="855.5" x2="725.5" y2="858.7" stroke="#000" stroke-width="0.85"/>
<line x1="737.5" y1="855.5" x2="737.5" y2="858.7" stroke="#000" stroke-width="0.85"/>
<line x1="750.5" y1="855.5" x2="750.5" y2="858.7" stroke="#000" stroke-width="0.85"/>
<line x1="763.5" y1="855.5" x2="763.5" y2="862.5" stroke="#000" stroke-width="1.1"/>
<text transform="translate(762.5,877.2) scale(1,1.11)" font-size="11.11" text-anchor="middle" textLength="36" lengthAdjust="spacing">18Mar</text>
<text transform="translate(762.6,892.3) scale(1,1.11)" font-size="11.11" text-anchor="middle" textLength="20" lengthAdjust="spacing">00z</text>
<line x1="776.5" y1="855.5" x2="776.5" y2="858.7" stroke="#000" stroke-width="0.85"/>
<line x1="788.5" y1="855.5" x2="788.5" y2="858.7" stroke="#000" stroke-width="0.85"/>
<line x1="801.5" y1="855.5" x2="801.5" y2="858.7" stroke="#000" stroke-width="0.85"/>
<line x1="814.5" y1="855.5" x2="814.5" y2="862.5" stroke="#000" stroke-width="1.1"/>
<text transform="translate(813.4,877.2) scale(1,1.11)" font-size="11.11" text-anchor="middle" textLength="36" lengthAdjust="spacing">19Mar</text>
<text transform="translate(813.5,892.3) scale(1,1.11)" font-size="11.11" text-anchor="middle" textLength="20" lengthAdjust="spacing">00z</text>
<line x1="826.5" y1="855.5" x2="826.5" y2="858.7" stroke="#000" stroke-width="0.85"/>
<line x1="839.5" y1="855.5" x2="839.5" y2="858.7" stroke="#000" stroke-width="0.85"/>
<line x1="852.5" y1="855.5" x2="852.5" y2="858.7" stroke="#000" stroke-width="0.85"/>
<line x1="865.5" y1="855.5" x2="865.5" y2="862.5" stroke="#000" stroke-width="1.1"/>
<text transform="translate(864.3,877.2) scale(1,1.11)" font-size="11.11" text-anchor="middle" textLength="36" lengthAdjust="spacing">20Mar</text>
<text transform="translate(864.4,892.3) scale(1,1.11)" font-size="11.11" text-anchor="middle" textLength="20" lengthAdjust="spacing">00z</text>
<line x1="877.5" y1="855.5" x2="877.5" y2="858.7" stroke="#000" stroke-width="0.85"/>
<line x1="890.5" y1="855.5" x2="890.5" y2="858.7" stroke="#000" stroke-width="0.85"/>
<line x1="903.5" y1="855.5" x2="903.5" y2="858.7" stroke="#000" stroke-width="0.85"/>
<line x1="916.5" y1="855.5" x2="916.5" y2="862.5" stroke="#000" stroke-width="1.1"/>
<text transform="translate(915.2,877.2) scale(1,1.11)" font-size="11.11" text-anchor="middle" textLength="36" lengthAdjust="spacing">21Mar</text>
<text transform="translate(915.3,892.3) scale(1,1.11)" font-size="11.11" text-anchor="middle" textLength="20" lengthAdjust="spacing">00z</text>
<line x1="928.5" y1="855.5" x2="928.5" y2="858.7" stroke="#000" stroke-width="0.85"/>
<line x1="941.5" y1="855.5" x2="941.5" y2="858.7" stroke="#000" stroke-width="0.85"/>
<line x1="954.5" y1="855.5" x2="954.5" y2="858.7" stroke="#000" stroke-width="0.85"/>
<line x1="966.5" y1="855.5" x2="966.5" y2="862.5" stroke="#000" stroke-width="1.1"/>
<text transform="translate(966.1,877.2) scale(1,1.11)" font-size="11.11" text-anchor="middle" textLength="36" lengthAdjust="spacing">22Mar</text>
<text transform="translate(966.2,892.3) scale(1,1.11)" font-size="11.11" text-anchor="middle" textLength="20" lengthAdjust="spacing">00z</text>
<line x1="979.5" y1="855.5" x2="979.5" y2="858.7" stroke="#000" stroke-width="0.85"/>
<line x1="992.5" y1="855.5" x2="992.5" y2="858.7" stroke="#000" stroke-width="0.85"/>
<line x1="1005.5" y1="855.5" x2="1005.5" y2="858.7" stroke="#000" stroke-width="0.85"/>
<line x1="1017.5" y1="855.5" x2="1017.5" y2="862.5" stroke="#000" stroke-width="1.1"/>
<text transform="translate(1017,877.2) scale(1,1.11)" font-size="11.11" text-anchor="middle" textLength="36" lengthAdjust="spacing">23Mar</text>
<text transform="translate(1017.1,892.3) scale(1,1.11)" font-size="11.11" text-anchor="middle" textLength="20" lengthAdjust="spacing">00z</text>
<line x1="1030.5" y1="855.5" x2="1030.5" y2="858.7" stroke="#000" stroke-width="0.85"/>
<line x1="1043.5" y1="855.5" x2="1043.5" y2="858.7" stroke="#000" stroke-width="0.85"/>
<line x1="1055.5" y1="855.5" x2="1055.5" y2="858.7" stroke="#000" stroke-width="0.85"/>
<line x1="1068.5" y1="855.5" x2="1068.5" y2="862.5" stroke="#000" stroke-width="1.1"/>
<text transform="translate(1067.9,877.2) scale(1,1.11)" font-size="11.11" text-anchor="middle" textLength="36" lengthAdjust="spacing">24Mar</text>
<text transform="translate(1068,892.3) scale(1,1.11)" font-size="11.11" text-anchor="middle" textLength="20" lengthAdjust="spacing">00z</text>
<line x1="1081.5" y1="855.5" x2="1081.5" y2="858.7" stroke="#000" stroke-width="0.85"/>
<line x1="1094.5" y1="855.5" x2="1094.5" y2="858.7" stroke="#000" stroke-width="0.85"/>
<line x1="1106.5" y1="855.5" x2="1106.5" y2="858.7" stroke="#000" stroke-width="0.85"/>
<line x1="1119.5" y1="855.5" x2="1119.5" y2="862.5" stroke="#000" stroke-width="1.1"/>
<text transform="translate(1118.8,877.2) scale(1,1.11)" font-size="11.11" text-anchor="middle" textLength="36" lengthAdjust="spacing">25Mar</text>
<text transform="translate(1118.9,892.3) scale(1,1.11)" font-size="11.11" text-anchor="middle" textLength="20" lengthAdjust="spacing">00z</text>
<line x1="1132.5" y1="855.5" x2="1132.5" y2="858.7" stroke="#000" stroke-width="0.85"/>
<line x1="1145.5" y1="855.5" x2="1145.5" y2="858.7" stroke="#000" stroke-width="0.85"/>
<line x1="1157.5" y1="855.5" x2="1157.5" y2="858.7" stroke="#000" stroke-width="0.85"/>
<line x1="1170.5" y1="855.5" x2="1170.5" y2="862.5" stroke="#000" stroke-width="1.1"/>
<text transform="translate(1169.7,877.2) scale(1,1.11)" font-size="11.11" text-anchor="middle" textLength="36" lengthAdjust="spacing">26Mar</text>
<text transform="translate(1169.8,892.3) scale(1,1.11)" font-size="11.11" text-anchor="middle" textLength="20" lengthAdjust="spacing">00z</text>
<line x1="654.5" y1="855.5" x2="661.5" y2="855.5" stroke="#000" stroke-width="1.1"/>
<text transform="translate(648.6,860.1) scale(1,1.11)" font-size="11.11" text-anchor="end" textLength="14" lengthAdjust="spacing">20</text>
<line x1="658.3" y1="839.5" x2="661.5" y2="839.5" stroke="#000" stroke-width="0.85"/>
<line x1="658.3" y1="824.5" x2="661.5" y2="824.5" stroke="#000" stroke-width="0.85"/>
<line x1="658.3" y1="809.5" x2="661.5" y2="809.5" stroke="#000" stroke-width="0.85"/>
<line x1="654.5" y1="794.5" x2="661.5" y2="794.5" stroke="#000" stroke-width="1.1"/>
<text transform="translate(648.6,799.12) scale(1,1.11)" font-size="11.11" text-anchor="end" textLength="14" lengthAdjust="spacing">40</text>
<line x1="658.3" y1="778.5" x2="661.5" y2="778.5" stroke="#000" stroke-width="0.85"/>
<line x1="658.3" y1="763.5" x2="661.5" y2="763.5" stroke="#000" stroke-width="0.85"/>
<line x1="658.3" y1="748.5" x2="661.5" y2="748.5" stroke="#000" stroke-width="0.85"/>
<line x1="654.5" y1="733.5" x2="661.5" y2="733.5" stroke="#000" stroke-width="1.1"/>
<text transform="translate(648.6,738.15) scale(1,1.11)" font-size="11.11" text-anchor="end" textLength="14" lengthAdjust="spacing">60</text>
<line x1="658.3" y1="718.5" x2="661.5" y2="718.5" stroke="#000" stroke-width="0.85"/>
<line x1="658.3" y1="702.5" x2="661.5" y2="702.5" stroke="#000" stroke-width="0.85"/>
<line x1="658.3" y1="687.5" x2="661.5" y2="687.5" stroke="#000" stroke-width="0.85"/>
<line x1="654.5" y1="672.5" x2="661.5" y2="672.5" stroke="#000" stroke-width="1.1"/>
<text transform="translate(648.6,677.17) scale(1,1.11)" font-size="11.11" text-anchor="end" textLength="14" lengthAdjust="spacing">80</text>
<line x1="658.3" y1="657.5" x2="661.5" y2="657.5" stroke="#000" stroke-width="0.85"/>
<line x1="658.3" y1="641.5" x2="661.5" y2="641.5" stroke="#000" stroke-width="0.85"/>
<line x1="658.3" y1="626.5" x2="661.5" y2="626.5" stroke="#000" stroke-width="0.85"/>
<line x1="654.5" y1="611.5" x2="661.5" y2="611.5" stroke="#000" stroke-width="1.1"/>
<text transform="translate(648.6,616.2) scale(1,1.11)" font-size="11.11" text-anchor="end" textLength="21" lengthAdjust="spacing">100</text>
<text transform="translate(1164.4,627.8)" font-size="13.89" text-anchor="end" font-weight="bold">Mid-Level RH</text>
<text transform="translate(621.8,733.5) rotate(-90)" font-size="13.89" text-anchor="middle">700-500 hPa Humidity (%)</text>
<line x1="668.9" y1="770.8" x2="691.1" y2="770.8" stroke="#99000d" stroke-width="3.47" stroke-linecap="square"/>
<text transform="translate(700.6,774.3) scale(1,1.11)" font-size="11.11" text-anchor="start" textLength="64" lengthAdjust="spacing">18z 20 Mar</text>
<line x1="668.9" y1="784.96" x2="691.1" y2="784.96" stroke="#c6121a" stroke-width="3.47" stroke-linecap="square"/>
<text transform="translate(700.6,788.46) scale(1,1.11)" font-size="11.11" text-anchor="start" textLength="64" lengthAdjust="spacing">12z 20 Mar</text>
<line x1="668.9" y1="799.12" x2="691.1" y2="799.12" stroke="#eb372a" stroke-width="3.47" stroke-linecap="square"/>
<text transform="translate(700.6,802.62) scale(1,1.11)" font-size="11.11" text-anchor="start" textLength="64" lengthAdjust="spacing">06z 20 Mar</text>
<line x1="668.9" y1="813.28" x2="691.1" y2="813.28" stroke="#fa6648" stroke-width="3.47" stroke-linecap="square"/>
<text transform="translate(700.6,816.78) scale(1,1.11)" font-size="11.11" text-anchor="start" textLength="64" lengthAdjust="spacing">00z 20 Mar</text>
<line x1="668.9" y1="827.44" x2="691.1" y2="827.44" stroke="#fc9070" stroke-width="3.47" stroke-linecap="square"/>
<text transform="translate(700.6,830.94) scale(1,1.11)" font-size="11.11" text-anchor="start" textLength="64" lengthAdjust="spacing">18z 19 Mar</text>
<line x1="668.9" y1="841.6" x2="691.1" y2="841.6" stroke="#fcbba1" stroke-width="3.47" stroke-linecap="square"/>
<text transform="translate(700.6,845.1) scale(1,1.11)" font-size="11.11" text-anchor="start" textLength="64" lengthAdjust="spacing">12z 19 Mar</text>
<polygon points="425.58,340.62 429.83,336.8 438.33,334.25 469.49,334.25 472.32,342.75 476.57,343.46 489.32,343.46 497.82,344.16 502.07,337.79 507.73,337.08 509.15,339.92 517.65,341.33 523.31,342.04 530.4,342.75 551.64,344.16 555.89,356.91 556.6,367.54 551.64,366.83 544.56,364.7 537.48,363.99 530.4,364.7 523.31,363.99 514.82,363.29 506.32,361.87 500.65,360.45 493.57,356.91 486.49,355.5 477.99,354.08 472.32,353.37 468.07,355.5 462.41,355.5 455.33,352.66 448.24,350.54 439.75,348.41 439.04,344.16 436.91,342.75 432.66,342.04" fill="#cccccc" stroke="none" stroke-width="0" clip-path="url(#cM)"/>
<polygon points="558.73,361.87 570.06,361.16 574.31,364.7 569.35,368.24 563.68,365.41 558.73,363.29" fill="#cccccc" stroke="none" stroke-width="0" clip-path="url(#cM)"/>
<polygon points="531.81,343.46 551.64,343.17 551.64,344.16 533.23,344.45" fill="#cccccc" stroke="none" stroke-width="0" clip-path="url(#cM)"/>
<polyline points="438.33,334.96 439.04,344.16 440.03,348.41" fill="none" stroke="#fff" stroke-width="0.7" clip-path="url(#cM)"/>
<polyline points="472.32,342.75 470.91,348.41 472.32,353.37" fill="none" stroke="#fff" stroke-width="0.7" clip-path="url(#cM)"/>
<polyline points="497.82,352.66 493.57,356.2" fill="none" stroke="#fff" stroke-width="0.7" clip-path="url(#cM)"/>
<polyline points="494.99,354.79 497.82,352.66 503.48,356.91 503.48,361.16" fill="none" stroke="#fff" stroke-width="0.7" clip-path="url(#cM)"/>
<polyline points="515.52,341.33 514.82,347 509.86,349.12 510.57,356.2 506.32,361.44" fill="none" stroke="#fff" stroke-width="0.7" clip-path="url(#cM)"/>
<polygon points="580.7,554.7 574.6,559.6 563.6,563.2 557.5,568.1 555,574.2 551.8,565.7 550.1,570.6 547.7,576.7 548.9,582.8 545.2,590.1 542.8,598.7 543.3,604 546.3,608.7 549.7,615.3 553,620.7 555.3,624.7 554.3,631.3 552.3,633.3 550,632 547,636 549.7,641.3 553,648 553.3,653.3 556.3,660 558.7,664.7 562.3,672 564.8,679.4 566,686.7 568.5,696.5 572.1,702.6 574.6,706.3 580.7,711.1" fill="#cccccc" stroke="none" stroke-width="0" clip-path="url(#cM)"/>
<polygon points="580.68,735.6 574.57,736.82 566.01,740.49 566.5,747.82 574.57,750.27 580.68,751.49" fill="#cccccc" stroke="none" stroke-width="0" clip-path="url(#cM)"/>
<polyline points="543.3,621.2 545.3,624.5 546,627" fill="none" stroke="#d8d8d8" stroke-width="0.9" clip-path="url(#cM)"/>
<polyline points="535.3,620.3 537,624.3" fill="none" stroke="#d8d8d8" stroke-width="0.9" clip-path="url(#cM)"/>
<polyline points="542.3,630 542.6,633" fill="none" stroke="#d8d8d8" stroke-width="0.9" clip-path="url(#cM)"/>
<polyline points="549.2,628.5 549.8,631" fill="none" stroke="#d8d8d8" stroke-width="0.9" clip-path="url(#cM)"/>
<polyline points="459.2,500 450.2,500.2 435.8,500.6 422.2,502 401.8,501.6 381.5,502.6 359,505.3 337.8,509.6 314,517 290,527.5 267,540 245,553 228,565.5 211.25,577.5 199,588.5 186.5,598.5 174.7,602 165.5,612 157.9,628.5 162.5,652.6 176.2,667.4 189.8,682.1" fill="none" stroke="#99000d" stroke-width="2.78" stroke-linejoin="round" clip-path="url(#cM)"/>
<circle cx="450.2" cy="500.2" r="3.6" fill="#222222" clip-path="url(#cM)"/>
<circle cx="422.2" cy="502" r="3.0" fill="#fff" stroke="#222222" stroke-width="1.3" clip-path="url(#cM)"/>
<circle cx="381.5" cy="502.6" r="3.6" fill="#222222" clip-path="url(#cM)"/>
<circle cx="337.8" cy="509.6" r="3.0" fill="#fff" stroke="#222222" stroke-width="1.3" clip-path="url(#cM)"/>
<circle cx="290" cy="527.5" r="3.6" fill="#222222" clip-path="url(#cM)"/>
<circle cx="245" cy="553" r="3.0" fill="#fff" stroke="#222222" stroke-width="1.3" clip-path="url(#cM)"/>
<circle cx="211.25" cy="577.5" r="3.6" fill="#222222" clip-path="url(#cM)"/>
<circle cx="186.5" cy="598.5" r="3.0" fill="#fff" stroke="#222222" stroke-width="1.3" clip-path="url(#cM)"/>
<circle cx="165.5" cy="612" r="3.6" fill="#222222" clip-path="url(#cM)"/>
<circle cx="162.5" cy="652.6" r="3.0" fill="#fff" stroke="#222222" stroke-width="1.3" clip-path="url(#cM)"/>
<circle cx="459.2" cy="500" r="3.5" fill="#99000d" clip-path="url(#cM)"/>
<polyline points="473,503.5 459.55,499.48 449.85,499.68 435.53,500.09 421.8,501.48 401.53,501.06 381.31,501.99 358.93,504.73 337.68,509.06 313.85,516.48 289.7,526.86 267,543 244.25,558 227,572 210.5,585 199,593.5 188,600.75 177.8,606.7 164.3,615.75 157.6,616.5 156.5,622.5 157.9,628.5" fill="none" stroke="#c6121a" stroke-width="2.78" stroke-linejoin="round" clip-path="url(#cM)"/>
<circle cx="449.85" cy="499.68" r="3.6" fill="#222222" clip-path="url(#cM)"/>
<circle cx="421.8" cy="501.48" r="3.0" fill="#fff" stroke="#222222" stroke-width="1.3" clip-path="url(#cM)"/>
<circle cx="381.31" cy="501.99" r="3.6" fill="#222222" clip-path="url(#cM)"/>
<circle cx="337.68" cy="509.06" r="3.0" fill="#fff" stroke="#222222" stroke-width="1.3" clip-path="url(#cM)"/>
<circle cx="289.7" cy="526.86" r="3.6" fill="#222222" clip-path="url(#cM)"/>
<circle cx="244.25" cy="558" r="3.0" fill="#fff" stroke="#222222" stroke-width="1.3" clip-path="url(#cM)"/>
<circle cx="210.5" cy="585" r="3.6" fill="#222222" clip-path="url(#cM)"/>
<circle cx="188" cy="600.75" r="3.0" fill="#fff" stroke="#222222" stroke-width="1.3" clip-path="url(#cM)"/>
<circle cx="164.3" cy="615.75" r="3.6" fill="#222222" clip-path="url(#cM)"/>
<circle cx="156.5" cy="622.5" r="3.0" fill="#fff" stroke="#222222" stroke-width="1.3" clip-path="url(#cM)"/>
<circle cx="473" cy="503.5" r="3.5" fill="#c6121a" clip-path="url(#cM)"/>
<polyline points="484.2,504.6 474,502.5 461.04,497.2 448.36,497.4 434.36,497.88 420.04,499.2 400.36,498.72 380.5,499.32 358.6,502.26 337.16,506.72 313.2,514.2 288.4,524.1 267,537 245,549.3 226,560.5 208.25,570.75 195,580 183.5,588.3 168,593 155,598.5 147,601.5 140.9,604" fill="none" stroke="#eb372a" stroke-width="2.78" stroke-linejoin="round" clip-path="url(#cM)"/>
<circle cx="474" cy="502.5" r="3.0" fill="#fff" stroke="#222222" stroke-width="1.3" clip-path="url(#cM)"/>
<circle cx="448.36" cy="497.4" r="3.6" fill="#222222" clip-path="url(#cM)"/>
<circle cx="420.04" cy="499.2" r="3.0" fill="#fff" stroke="#222222" stroke-width="1.3" clip-path="url(#cM)"/>
<circle cx="380.5" cy="499.32" r="3.6" fill="#222222" clip-path="url(#cM)"/>
<circle cx="337.16" cy="506.72" r="3.0" fill="#fff" stroke="#222222" stroke-width="1.3" clip-path="url(#cM)"/>
<circle cx="288.4" cy="524.1" r="3.6" fill="#222222" clip-path="url(#cM)"/>
<circle cx="245" cy="549.3" r="3.0" fill="#fff" stroke="#222222" stroke-width="1.3" clip-path="url(#cM)"/>
<circle cx="208.25" cy="570.75" r="3.6" fill="#222222" clip-path="url(#cM)"/>
<circle cx="183.5" cy="588.3" r="3.0" fill="#fff" stroke="#222222" stroke-width="1.3" clip-path="url(#cM)"/>
<circle cx="155" cy="598.5" r="3.6" fill="#222222" clip-path="url(#cM)"/>
<circle cx="484.2" cy="504.6" r="3.5" fill="#eb372a" clip-path="url(#cM)"/>
<polyline points="496,503.3 485.5,501.5 475.4,500 461.5,496.5 447.9,496.7 434,497.2 419.5,498.5 400,498 380.25,498.5 358.5,501.5 337,506 313,513.5 288,523.25 265,536.5 240.5,549 221,561 201.5,573.3 190,580 179.3,586.2 165,587 152.45,591 150,592" fill="none" stroke="#fa6648" stroke-width="2.78" stroke-linejoin="round" clip-path="url(#cM)"/>
<circle cx="475.4" cy="500" r="3.0" fill="#fff" stroke="#222222" stroke-width="1.3" clip-path="url(#cM)"/>
<circle cx="447.9" cy="496.7" r="3.6" fill="#222222" clip-path="url(#cM)"/>
<circle cx="419.5" cy="498.5" r="3.0" fill="#fff" stroke="#222222" stroke-width="1.3" clip-path="url(#cM)"/>
<circle cx="380.25" cy="498.5" r="3.6" fill="#222222" clip-path="url(#cM)"/>
<circle cx="337" cy="506" r="3.0" fill="#fff" stroke="#222222" stroke-width="1.3" clip-path="url(#cM)"/>
<circle cx="288" cy="523.25" r="3.6" fill="#222222" clip-path="url(#cM)"/>
<circle cx="240.5" cy="549" r="3.0" fill="#fff" stroke="#222222" stroke-width="1.3" clip-path="url(#cM)"/>
<circle cx="201.5" cy="573.3" r="3.6" fill="#222222" clip-path="url(#cM)"/>
<circle cx="179.3" cy="586.2" r="3.0" fill="#fff" stroke="#222222" stroke-width="1.3" clip-path="url(#cM)"/>
<circle cx="152.45" cy="591" r="3.6" fill="#222222" clip-path="url(#cM)"/>
<circle cx="496" cy="503.3" r="3.5" fill="#fa6648" clip-path="url(#cM)"/>
<polyline points="505.4,503.75 496,501.5 485.5,499.5 475.4,498 460.12,498.6 449.28,498.8 435.08,499.24 421.12,500.6 401.08,500.16 381,500.96 358.8,503.78 337.48,508.16 313.6,515.6 289.2,525.8 266,535 243.5,546 223,558.5 203,571 190,583 171.5,597.3 165,604 158.75,610.5" fill="none" stroke="#fc9070" stroke-width="2.78" stroke-linejoin="round" clip-path="url(#cM)"/>
<circle cx="496" cy="501.5" r="3.6" fill="#222222" clip-path="url(#cM)"/>
<circle cx="475.4" cy="498" r="3.0" fill="#fff" stroke="#222222" stroke-width="1.3" clip-path="url(#cM)"/>
<circle cx="449.28" cy="498.8" r="3.6" fill="#222222" clip-path="url(#cM)"/>
<circle cx="421.12" cy="500.6" r="3.0" fill="#fff" stroke="#222222" stroke-width="1.3" clip-path="url(#cM)"/>
<circle cx="381" cy="500.96" r="3.6" fill="#222222" clip-path="url(#cM)"/>
<circle cx="337.48" cy="508.16" r="3.0" fill="#fff" stroke="#222222" stroke-width="1.3" clip-path="url(#cM)"/>
<circle cx="289.2" cy="525.8" r="3.6" fill="#222222" clip-path="url(#cM)"/>
<circle cx="243.5" cy="546" r="3.0" fill="#fff" stroke="#222222" stroke-width="1.3" clip-path="url(#cM)"/>
<circle cx="203" cy="571" r="3.6" fill="#222222" clip-path="url(#cM)"/>
<circle cx="171.5" cy="597.3" r="3.0" fill="#fff" stroke="#222222" stroke-width="1.3" clip-path="url(#cM)"/>
<circle cx="505.4" cy="503.75" r="3.5" fill="#fc9070" clip-path="url(#cM)"/>
<polyline points="515.4,503.75 505,501.5 495.5,499.5 485,497.5 474.77,499.31 460.46,498.07 448.94,498.27 434.81,498.73 420.71,500.07 400.81,499.62 380.81,500.35 358.73,503.21 337.36,507.62 313.45,515.08 288.9,525.16 266,533 243.5,543.75 224,553.5 204.5,563.25 186.5,570 173.75,583.5 170,588.8" fill="none" stroke="#fcbba1" stroke-width="2.78" stroke-linejoin="round" clip-path="url(#cM)"/>
<circle cx="495.5" cy="499.5" r="3.6" fill="#222222" clip-path="url(#cM)"/>
<circle cx="474.77" cy="499.31" r="3.0" fill="#fff" stroke="#222222" stroke-width="1.3" clip-path="url(#cM)"/>
<circle cx="448.94" cy="498.27" r="3.6" fill="#222222" clip-path="url(#cM)"/>
<circle cx="420.71" cy="500.07" r="3.0" fill="#fff" stroke="#222222" stroke-width="1.3" clip-path="url(#cM)"/>
<circle cx="380.81" cy="500.35" r="3.6" fill="#222222" clip-path="url(#cM)"/>
<circle cx="337.36" cy="507.62" r="3.0" fill="#fff" stroke="#222222" stroke-width="1.3" clip-path="url(#cM)"/>
<circle cx="288.9" cy="525.16" r="3.6" fill="#222222" clip-path="url(#cM)"/>
<circle cx="243.5" cy="543.75" r="3.0" fill="#fff" stroke="#222222" stroke-width="1.3" clip-path="url(#cM)"/>
<circle cx="204.5" cy="563.25" r="3.6" fill="#222222" clip-path="url(#cM)"/>
<circle cx="173.75" cy="583.5" r="3.0" fill="#fff" stroke="#222222" stroke-width="1.3" clip-path="url(#cM)"/>
<circle cx="515.4" cy="503.75" r="3.5" fill="#fcbba1" clip-path="url(#cM)"/>
<polyline points="259.5,402.5 268.5,408.2 278.45,425.4 286.6,426.3 294.25,425.4 315.3,420.5 327,415.25 345.45,417.2 362.25,421.7 382.2,419.45 408.75,419.75 425.2,440.2 458.5,435.55 478,445 495.4,456.25 514.3,468.55 548.2,474.25 565,483.25 572.5,488.2 571.75,496 569.95,502.75 564.55,502.75 555.25,499 550.45,493.3 547,496 535.45,497.2 529.3,499 524.1,502.7 521.3,505.5 513.5,507.5 505.5,504.5 495.8,503.3 484.5,504.6 475,504.6 459.5,505.5 443.3,505.8" fill="none" stroke="#222222" stroke-width="2.6" stroke-linejoin="round" clip-path="url(#cM)"/>
<circle cx="259.5" cy="402.5" r="3.6" fill="#222222" clip-path="url(#cM)"/>
<circle cx="268.5" cy="408.2" r="3.6" fill="#222222" clip-path="url(#cM)"/>
<circle cx="278.45" cy="425.4" r="3.0" fill="#fff" stroke="#222222" stroke-width="1.3" clip-path="url(#cM)"/>
<circle cx="294.25" cy="425.4" r="3.6" fill="#222222" clip-path="url(#cM)"/>
<circle cx="315.3" cy="420.5" r="3.0" fill="#fff" stroke="#222222" stroke-width="1.3" clip-path="url(#cM)"/>
<circle cx="345.45" cy="417.2" r="3.6" fill="#222222" clip-path="url(#cM)"/>
<circle cx="382.2" cy="419.45" r="3.0" fill="#fff" stroke="#222222" stroke-width="1.3" clip-path="url(#cM)"/>
<circle cx="425.2" cy="440.2" r="3.6" fill="#222222" clip-path="url(#cM)"/>
<circle cx="458.5" cy="435.55" r="3.0" fill="#fff" stroke="#222222" stroke-width="1.3" clip-path="url(#cM)"/>
<circle cx="495.4" cy="456.25" r="3.6" fill="#222222" clip-path="url(#cM)"/>
<circle cx="514.3" cy="468.55" r="3.0" fill="#fff" stroke="#222222" stroke-width="1.3" clip-path="url(#cM)"/>
<circle cx="548.2" cy="474.25" r="3.6" fill="#222222" clip-path="url(#cM)"/>
<circle cx="572.5" cy="488.2" r="3.0" fill="#fff" stroke="#222222" stroke-width="1.3" clip-path="url(#cM)"/>
<circle cx="569.95" cy="502.75" r="3.6" fill="#222222" clip-path="url(#cM)"/>
<circle cx="564.55" cy="502.75" r="3.0" fill="#fff" stroke="#222222" stroke-width="1.3" clip-path="url(#cM)"/>
<circle cx="555.25" cy="499" r="3.6" fill="#222222" clip-path="url(#cM)"/>
<circle cx="550.45" cy="493.3" r="3.0" fill="#fff" stroke="#222222" stroke-width="1.3" clip-path="url(#cM)"/>
<circle cx="547" cy="496" r="3.6" fill="#222222" clip-path="url(#cM)"/>
<circle cx="535.45" cy="497.2" r="3.0" fill="#fff" stroke="#222222" stroke-width="1.3" clip-path="url(#cM)"/>
<circle cx="529.3" cy="499" r="3.6" fill="#222222" clip-path="url(#cM)"/>
<circle cx="524.1" cy="502.7" r="3.0" fill="#fff" stroke="#222222" stroke-width="1.3" clip-path="url(#cM)"/>
<circle cx="521.3" cy="505.5" r="3.6" fill="#222222" clip-path="url(#cM)"/>
<circle cx="495.8" cy="503.3" r="3.6" fill="#222222" clip-path="url(#cM)"/>
<circle cx="475" cy="504.6" r="3.0" fill="#fff" stroke="#222222" stroke-width="1.3" clip-path="url(#cM)"/>
<circle cx="259.5" cy="402.5" r="4.0" fill="#222222"/>
<circle cx="515.4" cy="503.75" r="3.5" fill="#fcbba1"/>
<circle cx="505.4" cy="503.75" r="3.5" fill="#fc9070"/>
<circle cx="484.2" cy="504.6" r="3.5" fill="#eb372a"/>
<polyline points="443.3,505.8 409.5,506.3 376.2,508.25 336.75,512.45 288,525.5 217.25,549.3 161.3,574.4 125.4,637.5" fill="none" stroke="#777777" stroke-width="2.78" stroke-linejoin="round" clip-path="url(#cM)"/>
<circle cx="443.3" cy="505.8" r="3.5" fill="#777777"/>
<circle cx="409.5" cy="506.3" r="3.0" fill="#fff" stroke="#222222" stroke-width="1.3" clip-path="url(#cM)"/>
<circle cx="376.2" cy="508.25" r="3.6" fill="#222222" clip-path="url(#cM)"/>
<circle cx="336.75" cy="512.45" r="3.0" fill="#fff" stroke="#222222" stroke-width="1.3" clip-path="url(#cM)"/>
<circle cx="288" cy="525.5" r="3.6" fill="#222222" clip-path="url(#cM)"/>
<circle cx="217.25" cy="549.3" r="3.6" fill="#222222" clip-path="url(#cM)"/>
<circle cx="161.3" cy="574.4" r="3.6" fill="#222222" clip-path="url(#cM)"/>
<circle cx="125.4" cy="637.5" r="3.6" fill="#222222" clip-path="url(#cM)"/>
<rect x="66.5" y="335.5" width="509" height="509" fill="none" stroke="#000" stroke-width="1.1"/>
<line x1="121.5" y1="844.5" x2="121.5" y2="851.5" stroke="#000" stroke-width="1.1"/>
<text transform="translate(121.4,864.7) scale(1,1.11)" font-size="11.11" text-anchor="middle" textLength="27" lengthAdjust="spacing">85°E</text>
<line x1="195.5" y1="844.5" x2="195.5" y2="851.5" stroke="#000" stroke-width="1.1"/>
<text transform="translate(195.57,864.7) scale(1,1.11)" font-size="11.11" text-anchor="middle" textLength="27" lengthAdjust="spacing">90°E</text>
<line x1="269.5" y1="844.5" x2="269.5" y2="851.5" stroke="#000" stroke-width="1.1"/>
<text transform="translate(269.74,864.7) scale(1,1.11)" font-size="11.11" text-anchor="middle" textLength="27" lengthAdjust="spacing">95°E</text>
<line x1="343.5" y1="844.5" x2="343.5" y2="851.5" stroke="#000" stroke-width="1.1"/>
<text transform="translate(343.91,864.7) scale(1,1.11)" font-size="11.11" text-anchor="middle" textLength="34" lengthAdjust="spacing">100°E</text>
<line x1="418.5" y1="844.5" x2="418.5" y2="851.5" stroke="#000" stroke-width="1.1"/>
<text transform="translate(418.08,864.7) scale(1,1.11)" font-size="11.11" text-anchor="middle" textLength="34" lengthAdjust="spacing">105°E</text>
<line x1="492.5" y1="844.5" x2="492.5" y2="851.5" stroke="#000" stroke-width="1.1"/>
<text transform="translate(492.25,864.7) scale(1,1.11)" font-size="11.11" text-anchor="middle" textLength="34" lengthAdjust="spacing">110°E</text>
<line x1="566.5" y1="844.5" x2="566.5" y2="851.5" stroke="#000" stroke-width="1.1"/>
<text transform="translate(566.42,864.7) scale(1,1.11)" font-size="11.11" text-anchor="middle" textLength="34" lengthAdjust="spacing">115°E</text>
<line x1="59.5" y1="389.5" x2="66.5" y2="389.5" stroke="#000" stroke-width="1.1"/>
<text transform="translate(53,393.85) scale(1,1.11)" font-size="11.11" text-anchor="end" textLength="27" lengthAdjust="spacing">10°S</text>
<line x1="59.5" y1="463.5" x2="66.5" y2="463.5" stroke="#000" stroke-width="1.1"/>
<text transform="translate(53,468.02) scale(1,1.11)" font-size="11.11" text-anchor="end" textLength="27" lengthAdjust="spacing">15°S</text>
<line x1="59.5" y1="538.5" x2="66.5" y2="538.5" stroke="#000" stroke-width="1.1"/>
<text transform="translate(53,542.19) scale(1,1.11)" font-size="11.11" text-anchor="end" textLength="27" lengthAdjust="spacing">20°S</text>
<line x1="59.5" y1="612.5" x2="66.5" y2="612.5" stroke="#000" stroke-width="1.1"/>
<text transform="translate(53,616.36) scale(1,1.11)" font-size="11.11" text-anchor="end" textLength="27" lengthAdjust="spacing">25°S</text>
<line x1="59.5" y1="686.5" x2="66.5" y2="686.5" stroke="#000" stroke-width="1.1"/>
<text transform="translate(53,690.53) scale(1,1.11)" font-size="11.11" text-anchor="end" textLength="27" lengthAdjust="spacing">30°S</text>
<line x1="59.5" y1="760.5" x2="66.5" y2="760.5" stroke="#000" stroke-width="1.1"/>
<text transform="translate(53,764.7) scale(1,1.11)" font-size="11.11" text-anchor="end" textLength="27" lengthAdjust="spacing">35°S</text>
<line x1="59.5" y1="834.5" x2="66.5" y2="834.5" stroke="#000" stroke-width="1.1"/>
<text transform="translate(53,838.87) scale(1,1.11)" font-size="11.11" text-anchor="end" textLength="27" lengthAdjust="spacing">40°S</text>
<text transform="translate(569.1,354.6)" font-size="13.89" text-anchor="end" font-weight="bold">Track</text>
<line x1="73.9" y1="348.45" x2="96.1" y2="348.45" stroke="#222222" stroke-width="3.47" stroke-linecap="square"/>
<text transform="translate(104.9,351.95) scale(1,1.11)" font-size="11.11" text-anchor="start" textLength="29" lengthAdjust="spacing">BEST</text>
<line x1="73.9" y1="362.61" x2="96.1" y2="362.61" stroke="#99000d" stroke-width="3.47" stroke-linecap="square"/>
<text transform="translate(104.9,366.11) scale(1,1.11)" font-size="11.11" text-anchor="start" textLength="64" lengthAdjust="spacing">18z 20 Mar</text>
<line x1="73.9" y1="376.77" x2="96.1" y2="376.77" stroke="#c6121a" stroke-width="3.47" stroke-linecap="square"/>
<text transform="translate(104.9,380.27) scale(1,1.11)" font-size="11.11" text-anchor="start" textLength="64" lengthAdjust="spacing">12z 20 Mar</text>
<line x1="73.9" y1="390.93" x2="96.1" y2="390.93" stroke="#eb372a" stroke-width="3.47" stroke-linecap="square"/>
<text transform="translate(104.9,394.43) scale(1,1.11)" font-size="11.11" text-anchor="start" textLength="64" lengthAdjust="spacing">06z 20 Mar</text>
<line x1="73.9" y1="405.09" x2="96.1" y2="405.09" stroke="#fa6648" stroke-width="3.47" stroke-linecap="square"/>
<text transform="translate(104.9,408.59) scale(1,1.11)" font-size="11.11" text-anchor="start" textLength="64" lengthAdjust="spacing">00z 20 Mar</text>
<line x1="73.9" y1="419.25" x2="96.1" y2="419.25" stroke="#fc9070" stroke-width="3.47" stroke-linecap="square"/>
<text transform="translate(104.9,422.75) scale(1,1.11)" font-size="11.11" text-anchor="start" textLength="64" lengthAdjust="spacing">18z 19 Mar</text>
<line x1="73.9" y1="433.41" x2="96.1" y2="433.41" stroke="#fcbba1" stroke-width="3.47" stroke-linecap="square"/>
<text transform="translate(104.9,436.91) scale(1,1.11)" font-size="11.11" text-anchor="start" textLength="64" lengthAdjust="spacing">12z 19 Mar</text>
<line x1="73.9" y1="447.57" x2="96.1" y2="447.57" stroke="#777777" stroke-width="3.47" stroke-linecap="square"/>
<text transform="translate(104.9,451.07) scale(1,1.11)" font-size="11.11" text-anchor="start" textLength="29" lengthAdjust="spacing">JTWC</text>
<g>
<defs><radialGradient id="eg" cx="0.38" cy="0.35" r="0.75"><stop offset="0" stop-color="#9fb0a8"/><stop offset="0.35" stop-color="#5f7fa6"/><stop offset="0.7" stop-color="#3558a0"/><stop offset="1" stop-color="#1e2f70"/></radialGradient><clipPath id="nc"><circle cx="20" cy="883" r="15"/></clipPath><clipPath id="gc"><circle cx="52" cy="881.6" r="8.9"/></clipPath></defs>
<circle cx="20" cy="883" r="15" fill="#fff"/>
<path d="M0 860 H40 V873.5 L32 873.5 C29.5 875.5 27 878.5 24.5 881 C23 883.5 21 885.9 19.5 885.9 C17 885.9 13 883 11 880 C9.5 878 8.5 876 7.5 874.5 L0 874.5 Z" fill="#27407f" clip-path="url(#nc)"/>
<path d="M0 879 L5 879.3 C9 882.2 12 885.6 16.5 887.6 C18 888.2 19.2 887.7 21 886.4 C24 884.9 28 881.2 31 878.2 C32.5 877 34 876 36 875 L40 875 V900 H0 Z" fill="#0a8bd6" clip-path="url(#nc)"/>
<path d="M15.3 889.2 L20.5 887.6 L24 885.4 L19.5 888.9 Z" fill="#fff"/>
<text x="20" y="877.3" font-size="4.6" text-anchor="middle" font-weight="bold" style="fill:#e4e9f5;font-family:'Liberation Sans','DejaVu Sans',sans-serif">noaa</text>
<text transform="translate(39.28,894) scale(0.87,1)" font-size="34.16" font-weight="bold" style="fill:#202c6e;font-family:'Liberation Sans','DejaVu Sans',sans-serif">C</text>
<text transform="translate(59.9,894) scale(0.92,1)" font-size="34.16" font-weight="bold" style="fill:#233a80;font-family:'Liberation Sans','DejaVu Sans',sans-serif">I</text>
<text transform="translate(69.86,894) scale(0.72,1)" font-size="34.16" font-weight="bold" style="fill:#25478f;font-family:'Liberation Sans','DejaVu Sans',sans-serif">R</text>
<text transform="translate(88.24,894) scale(0.89,1)" font-size="34.16" font-weight="bold" style="fill:#2a59a3;font-family:'Liberation Sans','DejaVu Sans',sans-serif">A</text>
<polygon points="98.6,872 100.6,872 109.4,894 89,894" fill="#2a59a3"/>
<rect x="75.5" y="874" width="8.5" height="8.5" fill="#2b589f"/>
<circle cx="52" cy="881.6" r="8.9" fill="url(#eg)"/>
<g clip-path="url(#gc)"><path d="M45 876 C47 873 50 873.5 51 875.5 C52 877.5 49.5 878.5 49.5 880.5 C49.5 882.5 47 883 45.5 881.5 Z" fill="#8a9a7c" opacity="0.8"/><path d="M46 885 C49 884 52 886 51 888.5 C50 890.5 47 889.5 46 888 Z" fill="#c9d2d8" opacity="0.55"/><path d="M53 874 C56 875 59 878 60.5 882 L61 874 Z" fill="#2b4a9a" opacity="0.7"/></g>
<path d="M75.5 873.5 l3.2 5 l-1.2 0.8 l-3 -4.6 Z" fill="#8fb0d8" opacity="0.8"/>
<path d="M92.5 893.5 l4.2 -6.2 l3.4 0.6 l-2.2 5.6 Z" fill="#dfe6ee"/>
<path d="M94 886.5 l5.5 -2.8 l0.8 1.5 l-4.5 3 Z" fill="#cfd8e4"/>
</g>
</svg></body></html>
